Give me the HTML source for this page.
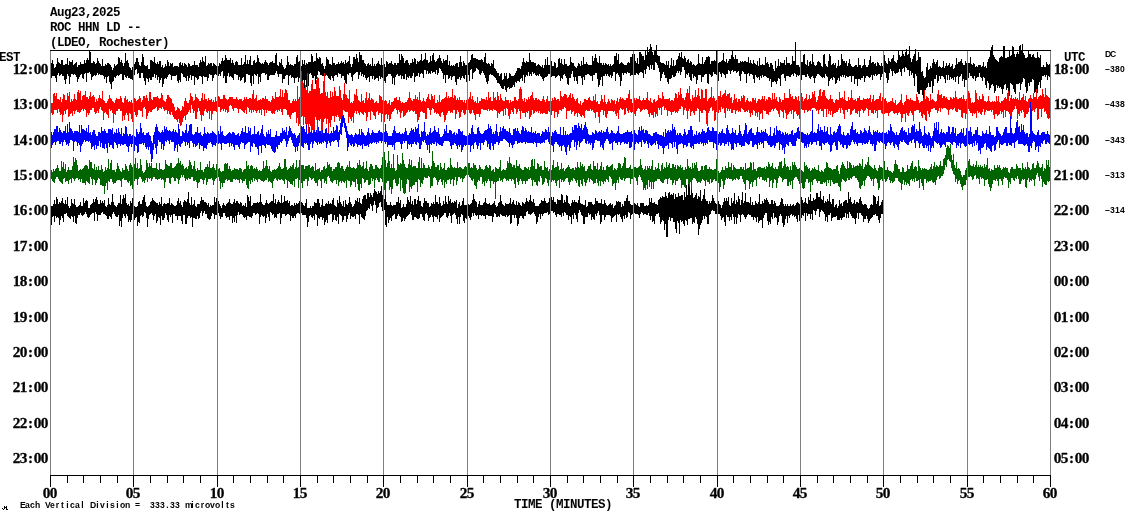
<!DOCTYPE html><html><head><meta charset="utf-8"><style>
*{margin:0;padding:0}
html,body{width:1130px;height:519px;background:#fff;overflow:hidden;position:relative}
.t{position:absolute;white-space:pre;will-change:transform;font-family:"Liberation Mono",monospace;color:#000;transform-origin:0 0;line-height:1}
.big{font-size:12.5px;letter-spacing:-0.5px;font-weight:bold;transform:scaleY(1.09)}
.sm{font-family:"Liberation Sans",sans-serif;font-size:8.6px;font-weight:bold}
.sm span{display:inline-block;width:5px;text-align:center}
.num{font-family:"Liberation Serif",serif;font-size:13.3px;font-weight:bold;-webkit-text-stroke:0.25px #000;transform:scaleY(1.03)}
.num span{display:inline-block;width:7px;text-align:center;transform:scaleX(1.15)}
svg{position:absolute;left:0;top:0}
</style></head><body><svg width="1130" height="519" viewBox="0 0 1130 519" shape-rendering="crispEdges"><path d="M51.5 63v15M52.5 60v16M53.5 64v12M54.5 68v8M55.5 67v11M56.5 64v18M57.5 58v17M58.5 62v11M59.5 63v13M60.5 64v11M61.5 60v14M62.5 60v16M63.5 65v11M64.5 65v15M65.5 64v20M66.5 64v15M67.5 58v16M68.5 65v11M69.5 61v23M70.5 62v15M71.5 62v12M72.5 60v14M73.5 65v10M74.5 64v10M75.5 63v12M76.5 62v15M77.5 67v15M78.5 65v14M79.5 65v12M80.5 62v13M81.5 64v10M82.5 64v14M83.5 64v15M84.5 60v14M85.5 63v10M86.5 60v22M87.5 58v15M88.5 60v13M89.5 51v21M90.5 52v22M91.5 63v17M92.5 63v14M93.5 61v15M94.5 62v13M95.5 64v12M96.5 63v12M97.5 58v15M98.5 61v14M99.5 63v11M100.5 64v11M101.5 66v9M102.5 59v16M103.5 66v10M104.5 66v13M105.5 64v13M106.5 65v18M107.5 63v14M108.5 63v13M109.5 64v18M110.5 65v19M111.5 67v22M112.5 70v12M113.5 68v13M114.5 64v13M115.5 66v12M116.5 65v11M117.5 64v11M118.5 57v19M119.5 58v17M120.5 62v12M121.5 60v14M122.5 63v17M123.5 66v14M124.5 63v12M125.5 53v24M126.5 61v17M127.5 60v16M128.5 63v15M129.5 67v11M130.5 68v11M131.5 70v9M132.5 67v13M133.5 68v7M134.5 64v11M135.5 62v8M136.5 58v11M137.5 58v16M138.5 62v11M139.5 65v13M140.5 66v12M141.5 62v11M142.5 54v19M143.5 57v21M144.5 65v16M145.5 66v19M146.5 66v12M147.5 65v14M148.5 69v13M149.5 69v9M150.5 60v20M151.5 60v20M152.5 61v16M153.5 62v15M154.5 57v17M155.5 63v15M156.5 64v11M157.5 62v18M158.5 64v13M159.5 61v22M160.5 61v19M161.5 67v11M162.5 65v22M163.5 68v16M164.5 67v12M165.5 64v14M166.5 66v13M167.5 60v17M168.5 62v13M169.5 66v8M170.5 63v12M171.5 64v16M172.5 63v13M173.5 67v9M174.5 66v10M175.5 66v10M176.5 66v9M177.5 66v15M178.5 67v16M179.5 63v17M180.5 62v20M181.5 65v8M182.5 63v11M183.5 66v11M184.5 63v14M185.5 64v14M186.5 65v16M187.5 67v9M188.5 63v18M189.5 64v14M190.5 66v9M191.5 66v14M192.5 65v11M193.5 65v11M194.5 61v24M195.5 65v12M196.5 65v13M197.5 65v15M198.5 67v12M199.5 63v13M200.5 60v16M201.5 62v15M202.5 57v27M203.5 61v15M204.5 62v15M205.5 56v21M206.5 66v11M207.5 65v16M208.5 63v15M209.5 64v10M210.5 63v12M211.5 63v12M212.5 66v15M213.5 63v15M214.5 64v11M215.5 65v9M216.5 66v9M217.5 67v9M218.5 66v10M219.5 63v11M220.5 64v12M221.5 61v11M222.5 58v13M223.5 61v17M224.5 60v16M225.5 55v28M226.5 58v25M227.5 60v16M228.5 60v13M229.5 60v17M230.5 58v18M231.5 63v14M232.5 60v18M233.5 63v17M234.5 65v9M235.5 62v12M236.5 61v14M237.5 62v13M238.5 65v15M239.5 65v12M240.5 65v16M241.5 58v22M242.5 65v13M243.5 64v13M244.5 62v21M245.5 55v27M246.5 64v10M247.5 60v14M248.5 64v11M249.5 60v15M250.5 56v27M251.5 65v21M252.5 65v11M253.5 61v23M254.5 60v14M255.5 63v12M256.5 62v14M257.5 55v19M258.5 58v26M259.5 62v15M260.5 63v19M261.5 64v10M262.5 63v10M263.5 64v9M264.5 62v11M265.5 60v15M266.5 62v12M267.5 63v17M268.5 65v15M269.5 63v13M270.5 62v13M271.5 62v13M272.5 61v14M273.5 63v12M274.5 63v12M275.5 55v18M276.5 53v18M277.5 65v9M278.5 66v11M279.5 62v12M280.5 63v11M281.5 59v15M282.5 65v18M283.5 67v12M284.5 69v10M285.5 68v8M286.5 65v10M287.5 56v19M288.5 62v23M289.5 65v11M290.5 64v11M291.5 65v13M292.5 65v12M293.5 66v12M294.5 64v19M295.5 64v14M296.5 57v21M297.5 55v22M298.5 62v20M299.5 61v17M300.5 64v22M301.5 66v20M302.5 60v34M303.5 64v16M304.5 60v30M305.5 65v15M306.5 63v24M307.5 64v12M308.5 62v24M309.5 62v12M310.5 62v11M311.5 54v21M312.5 56v22M313.5 62v16M314.5 61v15M315.5 61v23M316.5 53v26M317.5 58v17M318.5 59v12M319.5 57v15M320.5 58v17M321.5 64v11M322.5 63v13M323.5 66v10M324.5 69v9M325.5 66v10M326.5 57v18M327.5 59v17M328.5 60v18M329.5 64v15M330.5 64v16M331.5 65v11M332.5 57v21M333.5 63v18M334.5 63v13M335.5 65v10M336.5 64v11M337.5 64v13M338.5 62v11M339.5 64v10M340.5 63v11M341.5 61v17M342.5 63v13M343.5 62v14M344.5 64v16M345.5 60v23M346.5 63v21M347.5 62v12M348.5 61v14M349.5 56v17M350.5 64v9M351.5 67v10M352.5 64v17M353.5 57v18M354.5 57v17M355.5 59v14M356.5 54v18M357.5 58v14M358.5 62v17M359.5 52v23M360.5 55v17M361.5 55v21M362.5 60v14M363.5 60v17M364.5 63v12M365.5 64v14M366.5 66v14M367.5 64v14M368.5 63v14M369.5 65v17M370.5 64v12M371.5 66v10M372.5 58v21M373.5 66v10M374.5 64v16M375.5 66v13M376.5 64v14M377.5 63v15M378.5 61v20M379.5 64v12M380.5 65v14M381.5 58v19M382.5 65v13M383.5 65v13M384.5 64v17M385.5 67v16M386.5 61v16M387.5 62v14M388.5 64v10M389.5 63v11M390.5 63v11M391.5 61v15M392.5 64v20M393.5 65v13M394.5 63v22M395.5 63v14M396.5 65v10M397.5 63v11M398.5 63v13M399.5 54v22M400.5 60v15M401.5 54v25M402.5 56v20M403.5 58v21M404.5 63v16M405.5 61v13M406.5 60v20M407.5 60v17M408.5 63v15M409.5 65v11M410.5 63v15M411.5 63v15M412.5 59v17M413.5 62v11M414.5 58v24M415.5 59v18M416.5 64v12M417.5 61v15M418.5 62v11M419.5 61v16M420.5 60v14M421.5 54v19M422.5 61v13M423.5 60v18M424.5 59v11M425.5 53v17M426.5 60v14M427.5 60v11M428.5 63v11M429.5 62v11M430.5 56v18M431.5 61v10M432.5 55v18M433.5 53v19M434.5 60v12M435.5 62v12M436.5 61v9M437.5 59v16M438.5 58v15M439.5 55v13M440.5 58v11M441.5 61v10M442.5 63v10M443.5 59v20M444.5 61v14M445.5 60v23M446.5 60v15M447.5 55v20M448.5 65v14M449.5 61v17M450.5 66v10M451.5 65v15M452.5 66v11M453.5 65v11M454.5 66v10M455.5 64v18M456.5 63v22M457.5 63v16M458.5 67v12M459.5 62v15M460.5 56v24M461.5 62v16M462.5 66v10M463.5 61v17M464.5 63v16M465.5 65v10M466.5 65v17M467.5 64v12M468.5 63v12M469.5 62v19M470.5 60v10M471.5 55v14M472.5 54v25M473.5 58v15M474.5 58v14M475.5 58v13M476.5 59v9M477.5 59v10M478.5 60v10M479.5 60v14M480.5 60v15M481.5 59v14M482.5 60v11M483.5 62v11M484.5 57v18M485.5 53v25M486.5 63v19M487.5 64v20M488.5 63v18M489.5 64v11M490.5 66v8M491.5 63v12M492.5 64v11M493.5 60v16M494.5 68v9M495.5 69v9M496.5 71v9M497.5 73v10M498.5 73v10M499.5 76v8M500.5 74v12M501.5 73v15M502.5 80v9M503.5 79v10M504.5 73v13M505.5 76v14M506.5 73v19M507.5 79v9M508.5 78v9M509.5 73v16M510.5 74v14M511.5 76v12M512.5 76v11M513.5 76v9M514.5 75v12M515.5 73v9M516.5 71v12M517.5 68v13M518.5 68v13M519.5 68v14M520.5 69v10M521.5 66v12M522.5 62v19M523.5 58v17M524.5 62v21M525.5 63v14M526.5 61v14M527.5 62v14M528.5 62v10M529.5 53v23M530.5 60v14M531.5 62v14M532.5 62v10M533.5 62v12M534.5 63v10M535.5 63v12M536.5 66v10M537.5 65v10M538.5 64v12M539.5 65v9M540.5 66v10M541.5 67v10M542.5 65v14M543.5 68v13M544.5 65v13M545.5 59v18M546.5 65v12M547.5 57v19M548.5 65v9M549.5 65v9M550.5 64v11M551.5 61v16M552.5 66v10M553.5 66v10M554.5 62v14M555.5 63v15M556.5 68v9M557.5 67v9M558.5 59v16M559.5 58v18M560.5 63v18M561.5 59v19M562.5 64v15M563.5 65v10M564.5 59v15M565.5 64v12M566.5 64v14M567.5 66v18M568.5 66v19M569.5 65v13M570.5 57v21M571.5 62v12M572.5 63v8M573.5 63v14M574.5 66v15M575.5 67v10M576.5 68v13M577.5 66v18M578.5 63v13M579.5 64v12M580.5 66v10M581.5 61v17M582.5 65v20M583.5 57v20M584.5 64v16M585.5 64v11M586.5 62v13M587.5 64v10M588.5 65v9M589.5 65v10M590.5 65v11M591.5 65v11M592.5 56v25M593.5 61v14M594.5 58v17M595.5 54v19M596.5 58v15M597.5 62v17M598.5 63v24M599.5 56v29M600.5 63v17M601.5 63v14M602.5 65v21M603.5 63v13M604.5 65v11M605.5 63v11M606.5 64v12M607.5 65v9M608.5 64v12M609.5 66v11M610.5 64v11M611.5 66v12M612.5 65v11M613.5 64v8M614.5 56v16M615.5 56v25M616.5 53v21M617.5 60v13M618.5 54v21M619.5 64v13M620.5 63v23M621.5 62v19M622.5 63v10M623.5 64v11M624.5 65v8M625.5 65v8M626.5 65v9M627.5 63v9M628.5 62v11M629.5 63v10M630.5 57v19M631.5 57v18M632.5 54v21M633.5 62v18M634.5 54v21M635.5 61v14M636.5 63v10M637.5 58v16M638.5 64v11M639.5 52v21M640.5 52v20M641.5 54v18M642.5 56v17M643.5 56v22M644.5 60v10M645.5 50v24M646.5 55v14M647.5 47v19M648.5 52v15M649.5 49v21M650.5 44v21M651.5 47v22M652.5 52v13M653.5 55v15M654.5 51v19M655.5 50v12M656.5 45v18M657.5 55v10M658.5 56v12M659.5 56v16M660.5 62v19M661.5 63v15M662.5 63v11M663.5 63v9M664.5 64v11M665.5 65v13M666.5 61v17M667.5 65v17M668.5 61v23M669.5 68v11M670.5 65v14M671.5 58v20M672.5 66v9M673.5 60v17M674.5 66v11M675.5 65v11M676.5 60v13M677.5 59v12M678.5 56v17M679.5 53v18M680.5 57v18M681.5 52v20M682.5 58v9M683.5 59v8M684.5 56v14M685.5 58v20M686.5 62v12M687.5 60v15M688.5 59v14M689.5 63v14M690.5 61v19M691.5 62v19M692.5 65v9M693.5 64v14M694.5 65v11M695.5 66v11M696.5 65v19M697.5 64v16M698.5 54v21M699.5 63v12M700.5 64v11M701.5 64v18M702.5 57v20M703.5 64v13M704.5 62v13M705.5 60v14M706.5 57v17M707.5 57v26M708.5 56v28M709.5 57v17M710.5 64v11M711.5 61v16M712.5 61v15M713.5 61v11M714.5 60v14M715.5 61v13M716.5 50v25M717.5 59v15M718.5 63v18M719.5 62v10M720.5 62v12M721.5 61v16M722.5 60v13M723.5 53v21M724.5 61v14M725.5 62v16M726.5 59v15M727.5 63v11M728.5 61v9M729.5 59v12M730.5 59v15M731.5 55v16M732.5 50v20M733.5 57v15M734.5 59v12M735.5 55v16M736.5 59v14M737.5 59v13M738.5 63v8M739.5 63v13M740.5 61v20M741.5 62v12M742.5 61v10M743.5 62v10M744.5 61v13M745.5 61v13M746.5 62v21M747.5 62v12M748.5 57v16M749.5 63v13M750.5 60v14M751.5 63v11M752.5 64v11M753.5 60v19M754.5 63v20M755.5 64v11M756.5 65v12M757.5 61v17M758.5 66v11M759.5 58v22M760.5 65v11M761.5 65v13M762.5 64v11M763.5 65v12M764.5 65v11M765.5 57v19M766.5 63v14M767.5 62v16M768.5 64v14M769.5 67v14M770.5 63v16M771.5 63v24M772.5 65v17M773.5 69v13M774.5 71v10M775.5 61v21M776.5 68v16M777.5 66v15M778.5 59v19M779.5 66v13M780.5 62v24M781.5 63v12M782.5 63v11M783.5 63v11M784.5 60v18M785.5 65v16M786.5 57v19M787.5 63v13M788.5 63v13M789.5 63v14M790.5 65v12M791.5 64v11M792.5 56v18M793.5 61v15M794.5 61v12M795.5 42v32M796.5 65v12M797.5 65v10M798.5 65v11M799.5 67v8M800.5 64v13M801.5 62v18M802.5 62v13M803.5 55v20M804.5 54v21M805.5 64v13M806.5 65v12M807.5 60v14M808.5 66v10M809.5 62v16M810.5 61v18M811.5 64v13M812.5 54v22M813.5 62v16M814.5 65v18M815.5 66v12M816.5 65v11M817.5 62v12M818.5 61v13M819.5 62v13M820.5 63v13M821.5 66v11M822.5 67v11M823.5 55v22M824.5 54v24M825.5 64v10M826.5 66v10M827.5 67v10M828.5 61v25M829.5 54v27M830.5 56v23M831.5 65v13M832.5 64v16M833.5 63v14M834.5 65v13M835.5 63v21M836.5 68v15M837.5 66v14M838.5 60v18M839.5 66v15M840.5 65v11M841.5 54v23M842.5 59v16M843.5 61v16M844.5 61v14M845.5 63v15M846.5 61v15M847.5 66v11M848.5 63v14M849.5 59v17M850.5 64v12M851.5 66v16M852.5 67v9M853.5 67v9M854.5 66v18M855.5 65v14M856.5 65v14M857.5 67v19M858.5 58v21M859.5 65v14M860.5 65v15M861.5 68v10M862.5 66v12M863.5 65v11M864.5 59v23M865.5 65v13M866.5 67v9M867.5 67v9M868.5 65v12M869.5 60v18M870.5 56v21M871.5 63v12M872.5 62v18M873.5 62v13M874.5 64v12M875.5 63v11M876.5 66v10M877.5 62v13M878.5 63v11M879.5 65v9M880.5 66v14M881.5 63v14M882.5 66v8M883.5 62v12M884.5 55v17M885.5 61v12M886.5 63v15M887.5 64v19M888.5 58v22M889.5 61v12M890.5 62v7M891.5 59v12M892.5 58v18M893.5 55v16M894.5 61v12M895.5 62v12M896.5 63v10M897.5 60v13M898.5 50v22M899.5 55v14M900.5 57v15M901.5 56v20M902.5 51v18M903.5 54v14M904.5 56v16M905.5 52v15M906.5 49v19M907.5 55v15M908.5 54v16M909.5 46v30M910.5 58v13M911.5 62v13M912.5 59v14M913.5 56v22M914.5 54v32M915.5 49v25M916.5 61v15M917.5 60v32M918.5 52v42M919.5 57v37M920.5 57v33M921.5 72v18M922.5 71v24M923.5 76v25M924.5 78v15M925.5 77v13M926.5 67v21M927.5 63v24M928.5 70v13M929.5 69v18M930.5 66v21M931.5 68v13M932.5 63v30M933.5 59v27M934.5 62v17M935.5 64v15M936.5 62v13M937.5 60v23M938.5 67v14M939.5 66v10M940.5 67v12M941.5 68v8M942.5 67v9M943.5 61v16M944.5 68v11M945.5 66v17M946.5 63v12M947.5 66v14M948.5 65v10M949.5 63v17M950.5 67v10M951.5 66v13M952.5 64v14M953.5 69v11M954.5 68v9M955.5 65v17M956.5 58v19M957.5 64v12M958.5 62v22M959.5 62v15M960.5 61v15M961.5 59v15M962.5 63v18M963.5 65v14M964.5 65v22M965.5 61v19M966.5 63v17M967.5 54v31M968.5 63v15M969.5 63v10M970.5 57v19M971.5 64v12M972.5 65v13M973.5 63v16M974.5 64v12M975.5 67v14M976.5 66v12M977.5 67v10M978.5 65v12M979.5 65v8M980.5 65v12M981.5 67v11M982.5 66v15M983.5 62v15M984.5 67v11M985.5 66v19M986.5 68v20M987.5 62v19M988.5 59v24M989.5 57v33M990.5 51v37M991.5 47v38M992.5 45v39M993.5 55v31M994.5 57v36M995.5 59v32M996.5 60v25M997.5 61v27M998.5 62v24M999.5 58v30M1000.5 57v30M1001.5 56v33M1002.5 57v37M1003.5 46v43M1004.5 46v39M1005.5 58v26M1006.5 58v32M1007.5 57v31M1008.5 57v34M1009.5 51v45M1010.5 56v27M1011.5 55v29M1012.5 46v39M1013.5 47v42M1014.5 54v38M1015.5 57v37M1016.5 54v30M1017.5 52v32M1018.5 54v30M1019.5 46v37M1020.5 45v45M1021.5 51v33M1022.5 44v38M1023.5 53v25M1024.5 55v24M1025.5 58v29M1026.5 58v35M1027.5 57v34M1028.5 51v32M1029.5 54v32M1030.5 54v28M1031.5 57v25M1032.5 55v24M1033.5 54v26M1034.5 57v36M1035.5 58v34M1036.5 58v31M1037.5 52v41M1038.5 57v28M1039.5 58v24M1040.5 55v33M1041.5 67v13M1042.5 67v9M1043.5 65v11M1044.5 67v8M1045.5 67v10M1046.5 62v13M1047.5 64v16M1048.5 65v11M1049.5 64v13" stroke="#000000" stroke-width="1" fill="none"/><path d="M51.5 103v10M52.5 103v12M53.5 94v20M54.5 93v17M55.5 96v14M56.5 93v17M57.5 99v14M58.5 99v10M59.5 100v12M60.5 97v18M61.5 102v12M62.5 99v23M63.5 94v21M64.5 95v16M65.5 100v14M66.5 100v10M67.5 93v16M68.5 96v21M69.5 92v24M70.5 102v12M71.5 99v14M72.5 101v15M73.5 99v12M74.5 94v20M75.5 99v12M76.5 100v10M77.5 92v20M78.5 90v22M79.5 93v20M80.5 91v21M81.5 100v10M82.5 96v13M83.5 95v16M84.5 95v14M85.5 91v19M86.5 97v20M87.5 97v16M88.5 99v16M89.5 96v17M90.5 92v18M91.5 97v13M92.5 96v12M93.5 95v13M94.5 97v15M95.5 102v12M96.5 99v14M97.5 101v10M98.5 98v15M99.5 95v14M100.5 98v9M101.5 99v11M102.5 91v20M103.5 100v20M104.5 101v12M105.5 103v9M106.5 103v11M107.5 101v14M108.5 99v19M109.5 95v14M110.5 98v13M111.5 99v11M112.5 101v12M113.5 102v21M114.5 103v11M115.5 100v15M116.5 98v13M117.5 99v12M118.5 99v10M119.5 99v10M120.5 96v15M121.5 98v13M122.5 102v19M123.5 103v13M124.5 98v22M125.5 96v19M126.5 100v13M127.5 99v16M128.5 102v19M129.5 101v12M130.5 102v12M131.5 100v19M132.5 103v19M133.5 101v12M134.5 98v14M135.5 99v16M136.5 101v16M137.5 100v15M138.5 99v11M139.5 96v14M140.5 98v13M141.5 102v9M142.5 100v17M143.5 96v12M144.5 96v11M145.5 98v11M146.5 95v24M147.5 98v18M148.5 101v12M149.5 92v19M150.5 92v20M151.5 99v13M152.5 100v10M153.5 97v12M154.5 97v12M155.5 97v11M156.5 97v10M157.5 96v15M158.5 98v12M159.5 99v9M160.5 98v10M161.5 93v16M162.5 95v12M163.5 100v9M164.5 101v10M165.5 102v8M166.5 99v11M167.5 95v19M168.5 95v16M169.5 97v17M170.5 98v17M171.5 99v13M172.5 103v12M173.5 104v13M174.5 107v12M175.5 111v8M176.5 110v10M177.5 107v15M178.5 108v11M179.5 109v14M180.5 111v15M181.5 110v15M182.5 106v16M183.5 107v11M184.5 101v15M185.5 98v22M186.5 101v14M187.5 103v11M188.5 103v9M189.5 100v10M190.5 93v20M191.5 96v9M192.5 97v12M193.5 101v12M194.5 100v11M195.5 94v25M196.5 97v22M197.5 98v14M198.5 99v9M199.5 101v10M200.5 101v14M201.5 98v23M202.5 93v22M203.5 100v16M204.5 94v17M205.5 99v10M206.5 99v13M207.5 101v12M208.5 98v13M209.5 100v19M210.5 100v11M211.5 99v21M212.5 102v12M213.5 100v11M214.5 102v9M215.5 97v14M216.5 101v11M217.5 93v18M218.5 96v11M219.5 97v10M220.5 99v13M221.5 99v11M222.5 99v10M223.5 95v16M224.5 95v14M225.5 98v14M226.5 99v11M227.5 100v13M228.5 99v13M229.5 97v9M230.5 97v8M231.5 97v9M232.5 97v12M233.5 99v12M234.5 99v9M235.5 99v9M236.5 97v11M237.5 99v10M238.5 100v13M239.5 99v10M240.5 99v10M241.5 99v11M242.5 101v10M243.5 100v12M244.5 97v16M245.5 99v11M246.5 97v17M247.5 99v8M248.5 99v9M249.5 98v14M250.5 98v12M251.5 99v14M252.5 94v16M253.5 90v22M254.5 99v11M255.5 98v13M256.5 95v18M257.5 101v10M258.5 100v10M259.5 100v13M260.5 99v11M261.5 100v15M262.5 98v11M263.5 98v12M264.5 99v17M265.5 96v14M266.5 99v14M267.5 99v11M268.5 101v10M269.5 101v10M270.5 102v9M271.5 100v13M272.5 96v18M273.5 98v15M274.5 99v15M275.5 92v19M276.5 97v13M277.5 97v15M278.5 97v13M279.5 96v15M280.5 89v20M281.5 97v15M282.5 90v25M283.5 97v12M284.5 93v16M285.5 89v20M286.5 90v20M287.5 93v22M288.5 100v15M289.5 100v17M290.5 103v16M291.5 103v12M292.5 101v12M293.5 99v14M294.5 101v11M295.5 99v13M296.5 101v22M297.5 86v32M298.5 99v27M299.5 97v27M300.5 86v36M301.5 71v46M302.5 81v35M303.5 83v42M304.5 88v29M305.5 85v39M306.5 90v46M307.5 73v51M308.5 93v50M309.5 91v33M310.5 91v35M311.5 84v48M312.5 80v50M313.5 89v55M314.5 89v52M315.5 89v28M316.5 80v40M317.5 77v63M318.5 78v42M319.5 88v33M320.5 94v25M321.5 93v44M322.5 93v48M323.5 81v41M324.5 73v46M325.5 92v26M326.5 96v28M327.5 92v27M328.5 98v37M329.5 98v25M330.5 91v36M331.5 97v23M332.5 92v24M333.5 96v20M334.5 87v35M335.5 91v25M336.5 96v21M337.5 96v19M338.5 96v21M339.5 86v35M340.5 90v29M341.5 98v31M342.5 100v17M343.5 94v16M344.5 83v28M345.5 94v18M346.5 95v17M347.5 98v14M348.5 99v24M349.5 90v27M350.5 103v16M351.5 102v19M352.5 103v14M353.5 101v22M354.5 94v19M355.5 95v16M356.5 89v25M357.5 96v15M358.5 100v13M359.5 101v14M360.5 102v10M361.5 94v19M362.5 101v13M363.5 100v15M364.5 103v9M365.5 98v15M366.5 92v29M367.5 100v17M368.5 98v14M369.5 93v19M370.5 100v20M371.5 98v13M372.5 99v13M373.5 100v15M374.5 103v13M375.5 102v17M376.5 101v11M377.5 103v8M378.5 103v12M379.5 95v18M380.5 96v17M381.5 97v25M382.5 100v14M383.5 92v23M384.5 101v21M385.5 100v15M386.5 101v13M387.5 104v15M388.5 103v12M389.5 100v21M390.5 105v14M391.5 102v12M392.5 102v10M393.5 101v10M394.5 98v11M395.5 98v10M396.5 97v13M397.5 100v14M398.5 100v10M399.5 97v15M400.5 101v17M401.5 103v10M402.5 102v9M403.5 103v14M404.5 103v13M405.5 102v13M406.5 102v11M407.5 100v12M408.5 98v12M409.5 92v20M410.5 98v13M411.5 100v10M412.5 101v10M413.5 99v13M414.5 99v12M415.5 95v19M416.5 99v15M417.5 97v25M418.5 100v20M419.5 92v25M420.5 100v12M421.5 102v9M422.5 101v11M423.5 98v15M424.5 101v12M425.5 102v17M426.5 99v20M427.5 97v11M428.5 94v14M429.5 99v11M430.5 100v15M431.5 94v16M432.5 96v12M433.5 99v10M434.5 95v18M435.5 103v9M436.5 103v11M437.5 100v13M438.5 102v12M439.5 95v21M440.5 102v15M441.5 100v13M442.5 99v13M443.5 99v16M444.5 98v24M445.5 97v23M446.5 92v23M447.5 98v15M448.5 96v15M449.5 98v13M450.5 97v16M451.5 97v15M452.5 89v24M453.5 98v12M454.5 95v15M455.5 96v23M456.5 100v14M457.5 98v12M458.5 100v12M459.5 97v21M460.5 100v17M461.5 100v12M462.5 100v10M463.5 102v11M464.5 100v15M465.5 103v11M466.5 100v10M467.5 99v10M468.5 99v11M469.5 97v16M470.5 92v22M471.5 99v14M472.5 96v14M473.5 100v13M474.5 102v13M475.5 101v19M476.5 103v11M477.5 97v17M478.5 103v11M479.5 101v16M480.5 101v13M481.5 98v11M482.5 99v10M483.5 99v11M484.5 99v11M485.5 100v10M486.5 97v13M487.5 100v11M488.5 92v17M489.5 98v13M490.5 97v13M491.5 101v9M492.5 101v10M493.5 92v17M494.5 98v12M495.5 97v13M496.5 100v11M497.5 92v26M498.5 96v17M499.5 100v14M500.5 94v18M501.5 98v13M502.5 100v11M503.5 101v15M504.5 101v8M505.5 97v18M506.5 100v8M507.5 100v9M508.5 100v16M509.5 103v16M510.5 100v14M511.5 102v8M512.5 101v11M513.5 101v13M514.5 97v11M515.5 97v12M516.5 100v14M517.5 101v11M518.5 99v10M519.5 89v22M520.5 87v32M521.5 89v22M522.5 99v14M523.5 101v12M524.5 98v15M525.5 102v15M526.5 99v13M527.5 100v13M528.5 97v14M529.5 99v20M530.5 96v21M531.5 95v20M532.5 92v18M533.5 98v16M534.5 100v13M535.5 98v13M536.5 98v14M537.5 100v11M538.5 99v14M539.5 100v11M540.5 101v13M541.5 101v12M542.5 99v15M543.5 96v17M544.5 100v13M545.5 102v12M546.5 99v15M547.5 96v18M548.5 101v10M549.5 101v11M550.5 102v18M551.5 101v14M552.5 98v13M553.5 100v11M554.5 97v21M555.5 98v14M556.5 100v12M557.5 99v18M558.5 99v15M559.5 101v9M560.5 91v19M561.5 96v15M562.5 97v12M563.5 96v13M564.5 94v13M565.5 94v14M566.5 95v24M567.5 98v13M568.5 97v14M569.5 95v16M570.5 93v17M571.5 98v16M572.5 94v18M573.5 97v14M574.5 99v17M575.5 101v13M576.5 99v14M577.5 98v19M578.5 103v10M579.5 104v10M580.5 101v15M581.5 105v12M582.5 103v12M583.5 102v14M584.5 99v19M585.5 99v12M586.5 100v10M587.5 100v11M588.5 98v13M589.5 97v14M590.5 100v9M591.5 101v10M592.5 101v9M593.5 96v16M594.5 100v13M595.5 94v24M596.5 102v10M597.5 101v11M598.5 104v13M599.5 104v19M600.5 101v11M601.5 95v15M602.5 99v11M603.5 102v13M604.5 95v16M605.5 102v15M606.5 104v14M607.5 102v12M608.5 99v12M609.5 101v10M610.5 103v8M611.5 99v12M612.5 100v11M613.5 101v11M614.5 100v11M615.5 104v10M616.5 101v15M617.5 98v15M618.5 102v17M619.5 99v11M620.5 97v11M621.5 99v10M622.5 98v12M623.5 99v10M624.5 100v15M625.5 100v14M626.5 98v10M627.5 98v13M628.5 94v19M629.5 90v20M630.5 99v13M631.5 99v14M632.5 103v9M633.5 102v11M634.5 98v16M635.5 100v16M636.5 98v13M637.5 99v10M638.5 99v9M639.5 96v13M640.5 100v12M641.5 101v10M642.5 100v10M643.5 98v11M644.5 100v10M645.5 100v9M646.5 98v11M647.5 92v18M648.5 100v14M649.5 101v16M650.5 98v15M651.5 102v13M652.5 103v12M653.5 100v18M654.5 99v13M655.5 102v15M656.5 101v13M657.5 100v16M658.5 95v13M659.5 98v12M660.5 98v10M661.5 99v16M662.5 92v15M663.5 96v10M664.5 99v11M665.5 99v9M666.5 99v11M667.5 99v17M668.5 99v12M669.5 98v13M670.5 101v11M671.5 100v15M672.5 100v12M673.5 101v11M674.5 98v13M675.5 93v20M676.5 94v18M677.5 98v15M678.5 92v19M679.5 95v14M680.5 88v21M681.5 94v12M682.5 98v9M683.5 98v17M684.5 100v10M685.5 97v11M686.5 93v18M687.5 89v30M688.5 93v18M689.5 86v23M690.5 99v17M691.5 101v11M692.5 95v16M693.5 98v15M694.5 97v18M695.5 90v21M696.5 97v14M697.5 95v13M698.5 88v21M699.5 96v26M700.5 99v12M701.5 89v24M702.5 90v23M703.5 98v12M704.5 98v12M705.5 89v22M706.5 89v35M707.5 101v25M708.5 99v14M709.5 98v13M710.5 97v11M711.5 87v20M712.5 98v13M713.5 96v14M714.5 98v23M715.5 101v19M716.5 100v12M717.5 97v13M718.5 96v17M719.5 96v14M720.5 91v21M721.5 97v10M722.5 95v14M723.5 94v14M724.5 93v20M725.5 90v28M726.5 96v12M727.5 94v17M728.5 94v15M729.5 93v18M730.5 98v11M731.5 97v16M732.5 103v10M733.5 100v10M734.5 94v16M735.5 99v15M736.5 98v13M737.5 102v8M738.5 99v13M739.5 99v12M740.5 101v11M741.5 96v12M742.5 98v11M743.5 95v15M744.5 96v16M745.5 102v10M746.5 100v11M747.5 98v14M748.5 101v9M749.5 102v11M750.5 101v16M751.5 102v11M752.5 98v17M753.5 98v12M754.5 100v11M755.5 98v18M756.5 103v10M757.5 101v16M758.5 99v13M759.5 99v21M760.5 100v14M761.5 99v14M762.5 96v23M763.5 99v11M764.5 96v15M765.5 101v10M766.5 99v15M767.5 100v14M768.5 97v18M769.5 97v15M770.5 98v14M771.5 100v10M772.5 93v16M773.5 99v12M774.5 93v16M775.5 99v9M776.5 97v13M777.5 101v10M778.5 102v12M779.5 97v20M780.5 99v11M781.5 102v9M782.5 100v12M783.5 100v18M784.5 93v17M785.5 98v15M786.5 98v21M787.5 98v17M788.5 98v16M789.5 89v23M790.5 94v17M791.5 97v17M792.5 96v14M793.5 99v20M794.5 99v13M795.5 96v15M796.5 97v17M797.5 100v16M798.5 96v19M799.5 101v18M800.5 98v16M801.5 93v16M802.5 97v13M803.5 101v9M804.5 99v14M805.5 98v12M806.5 94v16M807.5 100v12M808.5 99v12M809.5 95v15M810.5 99v12M811.5 98v11M812.5 92v16M813.5 94v14M814.5 91v17M815.5 97v12M816.5 102v9M817.5 100v10M818.5 96v18M819.5 90v20M820.5 89v20M821.5 96v15M822.5 92v19M823.5 90v27M824.5 90v19M825.5 96v13M826.5 98v19M827.5 99v10M828.5 100v14M829.5 99v12M830.5 95v20M831.5 99v12M832.5 99v18M833.5 102v12M834.5 103v10M835.5 100v13M836.5 99v13M837.5 100v12M838.5 100v10M839.5 92v16M840.5 98v15M841.5 98v10M842.5 97v13M843.5 99v15M844.5 91v28M845.5 100v10M846.5 101v9M847.5 101v11M848.5 97v12M849.5 100v9M850.5 98v17M851.5 90v24M852.5 98v13M853.5 100v10M854.5 100v9M855.5 99v14M856.5 101v12M857.5 98v16M858.5 98v13M859.5 96v21M860.5 100v11M861.5 100v9M862.5 100v10M863.5 98v15M864.5 99v12M865.5 99v11M866.5 99v9M867.5 98v11M868.5 99v17M869.5 98v12M870.5 95v15M871.5 102v11M872.5 99v14M873.5 95v19M874.5 101v9M875.5 100v13M876.5 99v12M877.5 99v19M878.5 99v11M879.5 96v14M880.5 93v17M881.5 101v12M882.5 97v17M883.5 102v16M884.5 99v15M885.5 98v15M886.5 101v12M887.5 103v10M888.5 102v14M889.5 102v11M890.5 101v11M891.5 101v10M892.5 98v13M893.5 102v11M894.5 103v11M895.5 100v13M896.5 105v8M897.5 104v11M898.5 103v10M899.5 102v10M900.5 100v14M901.5 94v28M902.5 103v15M903.5 105v9M904.5 102v12M905.5 101v21M906.5 95v18M907.5 99v16M908.5 99v17M909.5 100v13M910.5 98v13M911.5 100v13M912.5 100v15M913.5 101v20M914.5 101v10M915.5 101v10M916.5 94v16M917.5 97v13M918.5 100v10M919.5 103v10M920.5 102v10M921.5 101v15M922.5 101v17M923.5 98v16M924.5 90v25M925.5 99v21M926.5 96v25M927.5 97v14M928.5 98v16M929.5 101v16M930.5 94v18M931.5 100v9M932.5 99v10M933.5 100v8M934.5 101v7M935.5 102v8M936.5 101v9M937.5 94v19M938.5 90v21M939.5 95v13M940.5 95v17M941.5 94v14M942.5 98v11M943.5 96v12M944.5 96v12M945.5 98v10M946.5 97v12M947.5 99v11M948.5 100v15M949.5 100v10M950.5 97v12M951.5 98v11M952.5 99v11M953.5 97v12M954.5 98v10M955.5 91v20M956.5 97v15M957.5 99v13M958.5 99v10M959.5 98v12M960.5 98v12M961.5 97v20M962.5 99v19M963.5 95v18M964.5 99v14M965.5 101v18M966.5 99v15M967.5 97v24M968.5 91v18M969.5 93v18M970.5 98v15M971.5 103v10M972.5 102v14M973.5 103v10M974.5 102v12M975.5 90v23M976.5 93v25M977.5 99v12M978.5 100v13M979.5 96v16M980.5 99v15M981.5 99v16M982.5 94v18M983.5 96v13M984.5 101v14M985.5 101v11M986.5 102v8M987.5 101v10M988.5 96v15M989.5 101v10M990.5 102v8M991.5 102v10M992.5 101v9M993.5 102v13M994.5 101v18M995.5 102v12M996.5 96v18M997.5 101v15M998.5 96v19M999.5 102v12M1000.5 103v8M1001.5 101v13M1002.5 101v11M1003.5 100v18M1004.5 98v12M1005.5 97v20M1006.5 99v12M1007.5 93v18M1008.5 91v21M1009.5 101v13M1010.5 98v18M1011.5 95v24M1012.5 99v13M1013.5 98v12M1014.5 99v10M1015.5 97v9M1016.5 99v10M1017.5 98v21M1018.5 100v14M1019.5 92v24M1020.5 100v11M1021.5 98v15M1022.5 97v13M1023.5 94v18M1024.5 100v18M1025.5 96v21M1026.5 101v13M1027.5 102v12M1028.5 99v13M1029.5 98v10M1030.5 95v11M1031.5 98v13M1032.5 99v12M1033.5 93v17M1034.5 97v15M1035.5 97v12M1036.5 89v19M1037.5 99v21M1038.5 97v22M1039.5 96v13M1040.5 95v14M1041.5 96v21M1042.5 89v20M1043.5 94v14M1044.5 97v15M1045.5 88v23M1046.5 95v19M1047.5 96v22M1048.5 97v22M1049.5 98v20" stroke="#ff0000" stroke-width="1" fill="none"/><path d="M51.5 132v16M52.5 135v10M53.5 132v11M54.5 129v13M55.5 129v16M56.5 126v16M57.5 126v15M58.5 132v9M59.5 128v16M60.5 130v14M61.5 132v10M62.5 133v13M63.5 131v11M64.5 131v9M65.5 126v16M66.5 133v12M67.5 124v20M68.5 132v14M69.5 122v21M70.5 128v12M71.5 129v11M72.5 131v10M73.5 133v18M74.5 131v11M75.5 131v10M76.5 131v11M77.5 131v15M78.5 132v11M79.5 125v20M80.5 133v19M81.5 125v21M82.5 129v15M83.5 129v13M84.5 130v10M85.5 131v11M86.5 128v13M87.5 132v9M88.5 125v17M89.5 133v8M90.5 132v11M91.5 135v14M92.5 132v15M93.5 130v16M94.5 130v20M95.5 134v11M96.5 136v13M97.5 136v10M98.5 132v14M99.5 132v9M100.5 133v14M101.5 127v16M102.5 131v17M103.5 131v17M104.5 129v20M105.5 131v13M106.5 133v15M107.5 133v20M108.5 129v14M109.5 129v18M110.5 129v16M111.5 130v15M112.5 128v20M113.5 134v15M114.5 132v10M115.5 133v10M116.5 129v16M117.5 133v15M118.5 128v16M119.5 132v12M120.5 134v12M121.5 128v16M122.5 136v9M123.5 133v12M124.5 134v10M125.5 126v18M126.5 127v19M127.5 134v13M128.5 136v16M129.5 134v12M130.5 134v10M131.5 136v11M132.5 135v9M133.5 131v14M134.5 136v15M135.5 137v8M136.5 129v17M137.5 132v21M138.5 134v18M139.5 132v12M140.5 123v21M141.5 128v16M142.5 133v10M143.5 132v13M144.5 135v8M145.5 135v12M146.5 133v16M147.5 133v14M148.5 132v18M149.5 135v12M150.5 136v18M151.5 141v21M152.5 143v16M153.5 135v15M154.5 132v12M155.5 127v21M156.5 124v30M157.5 127v19M158.5 131v9M159.5 132v10M160.5 133v9M161.5 132v17M162.5 130v14M163.5 132v18M164.5 126v20M165.5 129v12M166.5 127v15M167.5 130v10M168.5 131v10M169.5 130v14M170.5 131v9M171.5 132v10M172.5 131v11M173.5 129v13M174.5 132v19M175.5 130v18M176.5 132v13M177.5 133v19M178.5 124v20M179.5 129v17M180.5 136v11M181.5 136v8M182.5 131v12M183.5 132v9M184.5 133v9M185.5 130v16M186.5 124v18M187.5 133v12M188.5 131v12M189.5 125v23M190.5 124v17M191.5 124v17M192.5 134v9M193.5 135v12M194.5 134v10M195.5 132v15M196.5 132v14M197.5 127v18M198.5 133v10M199.5 133v16M200.5 132v13M201.5 135v11M202.5 136v10M203.5 134v17M204.5 127v21M205.5 133v15M206.5 134v15M207.5 132v13M208.5 133v10M209.5 134v9M210.5 133v9M211.5 133v11M212.5 131v16M213.5 132v13M214.5 133v12M215.5 134v12M216.5 135v8M217.5 127v20M218.5 131v13M219.5 134v9M220.5 126v18M221.5 132v18M222.5 131v12M223.5 135v8M224.5 136v8M225.5 136v8M226.5 135v9M227.5 134v9M228.5 133v10M229.5 132v15M230.5 133v10M231.5 134v12M232.5 132v12M233.5 132v15M234.5 133v17M235.5 135v10M236.5 135v10M237.5 134v11M238.5 133v14M239.5 136v13M240.5 134v10M241.5 131v11M242.5 128v15M243.5 132v11M244.5 132v17M245.5 126v19M246.5 133v11M247.5 133v10M248.5 127v15M249.5 131v11M250.5 128v24M251.5 135v11M252.5 134v13M253.5 134v9M254.5 126v18M255.5 134v13M256.5 134v13M257.5 132v17M258.5 131v24M259.5 135v11M260.5 133v13M261.5 129v24M262.5 125v20M263.5 134v11M264.5 136v10M265.5 137v11M266.5 132v12M267.5 134v11M268.5 130v15M269.5 134v11M270.5 129v17M271.5 137v12M272.5 137v14M273.5 137v15M274.5 137v16M275.5 135v17M276.5 131v16M277.5 136v13M278.5 136v9M279.5 136v9M280.5 133v9M281.5 133v10M282.5 128v13M283.5 131v8M284.5 130v9M285.5 132v9M286.5 127v20M287.5 135v9M288.5 131v10M289.5 126v12M290.5 128v9M291.5 131v9M292.5 133v10M293.5 134v12M294.5 133v14M295.5 135v17M296.5 138v9M297.5 136v15M298.5 135v11M299.5 133v10M300.5 131v19M301.5 126v20M302.5 127v20M303.5 126v22M304.5 129v14M305.5 132v12M306.5 125v18M307.5 134v11M308.5 133v17M309.5 127v23M310.5 132v12M311.5 131v11M312.5 133v15M313.5 132v11M314.5 130v11M315.5 132v10M316.5 130v13M317.5 133v12M318.5 127v15M319.5 131v13M320.5 131v12M321.5 134v10M322.5 130v12M323.5 133v10M324.5 133v8M325.5 129v13M326.5 128v20M327.5 133v11M328.5 133v8M329.5 134v9M330.5 133v13M331.5 131v11M332.5 133v8M333.5 127v15M334.5 131v10M335.5 130v10M336.5 125v15M337.5 126v16M338.5 132v15M339.5 130v10M340.5 123v11M341.5 118v17M342.5 116v11M343.5 115v8M344.5 118v10M345.5 123v9M346.5 126v12M347.5 131v20M348.5 134v13M349.5 135v8M350.5 135v10M351.5 134v12M352.5 135v9M353.5 137v10M354.5 135v11M355.5 133v10M356.5 134v10M357.5 135v12M358.5 134v11M359.5 129v16M360.5 135v11M361.5 129v16M362.5 132v17M363.5 133v11M364.5 135v11M365.5 136v10M366.5 135v11M367.5 132v13M368.5 128v19M369.5 133v11M370.5 135v8M371.5 133v11M372.5 130v13M373.5 132v10M374.5 133v10M375.5 133v9M376.5 133v11M377.5 133v9M378.5 131v12M379.5 130v11M380.5 132v9M381.5 132v11M382.5 133v8M383.5 132v9M384.5 132v10M385.5 124v20M386.5 131v11M387.5 133v14M388.5 136v9M389.5 136v9M390.5 136v9M391.5 136v9M392.5 133v14M393.5 130v15M394.5 126v24M395.5 131v12M396.5 133v9M397.5 133v9M398.5 133v9M399.5 132v10M400.5 134v10M401.5 134v15M402.5 133v11M403.5 134v7M404.5 132v11M405.5 128v13M406.5 131v10M407.5 135v14M408.5 135v9M409.5 133v12M410.5 131v13M411.5 128v19M412.5 130v14M413.5 129v15M414.5 132v10M415.5 127v17M416.5 129v16M417.5 128v14M418.5 124v19M419.5 134v15M420.5 137v12M421.5 131v14M422.5 132v9M423.5 131v11M424.5 122v18M425.5 132v11M426.5 136v9M427.5 134v16M428.5 135v10M429.5 132v21M430.5 128v16M431.5 133v12M432.5 132v11M433.5 131v13M434.5 126v18M435.5 130v12M436.5 132v14M437.5 132v11M438.5 128v16M439.5 134v11M440.5 137v8M441.5 137v9M442.5 136v10M443.5 134v9M444.5 129v12M445.5 131v10M446.5 125v16M447.5 133v8M448.5 133v8M449.5 130v12M450.5 130v16M451.5 131v18M452.5 134v11M453.5 133v12M454.5 132v11M455.5 135v9M456.5 133v13M457.5 134v15M458.5 129v16M459.5 129v18M460.5 131v14M461.5 132v20M462.5 131v19M463.5 135v12M464.5 135v10M465.5 136v10M466.5 136v9M467.5 135v9M468.5 135v10M469.5 133v12M470.5 134v18M471.5 128v18M472.5 125v20M473.5 132v17M474.5 134v9M475.5 134v8M476.5 134v11M477.5 128v21M478.5 127v19M479.5 131v12M480.5 133v17M481.5 134v9M482.5 134v9M483.5 133v12M484.5 131v11M485.5 130v10M486.5 130v11M487.5 129v18M488.5 124v20M489.5 128v21M490.5 126v24M491.5 129v14M492.5 134v12M493.5 132v18M494.5 134v10M495.5 131v13M496.5 124v18M497.5 132v10M498.5 136v9M499.5 132v11M500.5 127v14M501.5 131v10M502.5 128v13M503.5 126v13M504.5 129v10M505.5 129v11M506.5 131v10M507.5 131v11M508.5 132v11M509.5 128v19M510.5 133v10M511.5 135v10M512.5 135v13M513.5 129v16M514.5 129v15M515.5 128v13M516.5 131v10M517.5 128v16M518.5 131v12M519.5 133v10M520.5 134v8M521.5 130v13M522.5 126v17M523.5 127v15M524.5 131v11M525.5 128v16M526.5 130v12M527.5 132v11M528.5 131v12M529.5 132v11M530.5 132v11M531.5 127v16M532.5 133v10M533.5 132v12M534.5 133v9M535.5 131v12M536.5 134v13M537.5 133v10M538.5 133v10M539.5 133v10M540.5 136v8M541.5 134v9M542.5 131v12M543.5 132v10M544.5 132v11M545.5 129v11M546.5 130v10M547.5 132v7M548.5 127v15M549.5 132v12M550.5 134v12M551.5 136v9M552.5 132v14M553.5 133v19M554.5 131v13M555.5 130v12M556.5 132v10M557.5 134v10M558.5 134v11M559.5 134v13M560.5 127v19M561.5 135v16M562.5 135v11M563.5 127v18M564.5 135v12M565.5 131v21M566.5 135v20M567.5 134v13M568.5 135v10M569.5 134v17M570.5 133v15M571.5 133v9M572.5 127v13M573.5 130v10M574.5 125v22M575.5 125v17M576.5 125v25M577.5 128v17M578.5 123v18M579.5 126v21M580.5 128v15M581.5 124v18M582.5 130v11M583.5 128v11M584.5 125v14M585.5 122v21M586.5 127v17M587.5 129v12M588.5 134v10M589.5 135v8M590.5 135v10M591.5 135v8M592.5 132v18M593.5 133v15M594.5 134v9M595.5 130v10M596.5 131v9M597.5 133v8M598.5 132v9M599.5 131v10M600.5 132v15M601.5 130v15M602.5 133v15M603.5 131v19M604.5 132v11M605.5 132v9M606.5 129v10M607.5 127v12M608.5 132v9M609.5 134v10M610.5 133v11M611.5 130v13M612.5 131v19M613.5 133v9M614.5 133v8M615.5 134v9M616.5 133v10M617.5 131v14M618.5 126v16M619.5 133v9M620.5 134v11M621.5 134v9M622.5 134v8M623.5 133v9M624.5 133v11M625.5 132v11M626.5 132v12M627.5 130v14M628.5 132v10M629.5 132v16M630.5 132v16M631.5 131v16M632.5 134v8M633.5 134v13M634.5 130v20M635.5 133v11M636.5 134v8M637.5 135v8M638.5 130v14M639.5 127v15M640.5 131v11M641.5 126v21M642.5 130v10M643.5 129v13M644.5 133v11M645.5 130v13M646.5 130v11M647.5 131v13M648.5 134v14M649.5 134v9M650.5 135v10M651.5 136v10M652.5 136v9M653.5 133v11M654.5 133v10M655.5 132v13M656.5 132v9M657.5 134v10M658.5 134v15M659.5 135v10M660.5 135v11M661.5 135v11M662.5 136v12M663.5 132v22M664.5 137v11M665.5 129v17M666.5 133v13M667.5 131v14M668.5 130v19M669.5 132v11M670.5 130v13M671.5 131v13M672.5 124v24M673.5 129v13M674.5 127v20M675.5 130v12M676.5 135v14M677.5 133v21M678.5 135v10M679.5 133v11M680.5 133v11M681.5 135v8M682.5 136v8M683.5 134v14M684.5 129v16M685.5 132v13M686.5 135v12M687.5 134v12M688.5 130v13M689.5 130v13M690.5 126v21M691.5 126v22M692.5 130v16M693.5 136v13M694.5 134v10M695.5 135v9M696.5 131v13M697.5 135v8M698.5 133v11M699.5 132v12M700.5 134v8M701.5 132v12M702.5 129v14M703.5 131v15M704.5 131v12M705.5 133v12M706.5 132v11M707.5 128v16M708.5 127v13M709.5 130v12M710.5 131v11M711.5 131v11M712.5 127v15M713.5 128v20M714.5 131v12M715.5 131v13M716.5 131v19M717.5 133v17M718.5 134v11M719.5 132v11M720.5 133v13M721.5 131v14M722.5 129v14M723.5 133v10M724.5 133v13M725.5 134v10M726.5 128v16M727.5 125v17M728.5 130v16M729.5 133v9M730.5 134v10M731.5 133v17M732.5 128v21M733.5 132v18M734.5 133v10M735.5 130v14M736.5 135v12M737.5 135v8M738.5 133v10M739.5 125v20M740.5 131v14M741.5 134v13M742.5 136v10M743.5 134v12M744.5 130v16M745.5 123v19M746.5 125v18M747.5 134v10M748.5 132v13M749.5 130v14M750.5 129v12M751.5 128v13M752.5 133v14M753.5 133v14M754.5 135v10M755.5 135v9M756.5 132v13M757.5 127v22M758.5 132v11M759.5 132v13M760.5 133v9M761.5 130v14M762.5 132v11M763.5 131v17M764.5 132v9M765.5 129v12M766.5 133v8M767.5 134v9M768.5 136v9M769.5 135v10M770.5 127v20M771.5 136v11M772.5 136v10M773.5 133v12M774.5 128v20M775.5 135v11M776.5 126v17M777.5 130v13M778.5 131v11M779.5 130v20M780.5 131v13M781.5 134v11M782.5 132v18M783.5 133v15M784.5 135v19M785.5 132v15M786.5 134v10M787.5 133v12M788.5 135v11M789.5 134v8M790.5 134v8M791.5 131v13M792.5 130v16M793.5 135v11M794.5 133v13M795.5 133v13M796.5 132v9M797.5 128v10M798.5 127v12M799.5 131v8M800.5 132v8M801.5 132v10M802.5 132v11M803.5 133v10M804.5 134v14M805.5 134v12M806.5 135v13M807.5 133v11M808.5 135v12M809.5 134v10M810.5 132v10M811.5 131v14M812.5 110v34M813.5 133v9M814.5 132v10M815.5 133v9M816.5 133v12M817.5 129v12M818.5 124v17M819.5 131v15M820.5 127v19M821.5 130v20M822.5 130v13M823.5 132v12M824.5 126v19M825.5 132v11M826.5 131v12M827.5 127v15M828.5 134v10M829.5 135v10M830.5 127v25M831.5 134v17M832.5 135v10M833.5 132v11M834.5 131v11M835.5 133v13M836.5 132v18M837.5 129v21M838.5 126v15M839.5 124v18M840.5 126v19M841.5 134v10M842.5 135v12M843.5 132v16M844.5 135v10M845.5 136v9M846.5 135v14M847.5 133v15M848.5 133v12M849.5 135v11M850.5 129v16M851.5 126v16M852.5 122v18M853.5 130v12M854.5 130v14M855.5 129v13M856.5 133v11M857.5 132v14M858.5 134v9M859.5 134v9M860.5 130v13M861.5 131v12M862.5 133v12M863.5 132v11M864.5 128v16M865.5 130v14M866.5 131v12M867.5 133v11M868.5 130v12M869.5 126v14M870.5 132v12M871.5 134v10M872.5 135v11M873.5 130v14M874.5 132v19M875.5 131v20M876.5 132v13M877.5 130v11M878.5 133v9M879.5 132v11M880.5 133v8M881.5 133v9M882.5 132v11M883.5 132v10M884.5 133v11M885.5 133v16M886.5 132v14M887.5 134v9M888.5 130v12M889.5 131v12M890.5 124v21M891.5 127v16M892.5 131v11M893.5 132v14M894.5 133v15M895.5 135v9M896.5 132v13M897.5 135v12M898.5 135v15M899.5 133v11M900.5 130v11M901.5 128v14M902.5 127v15M903.5 131v9M904.5 130v12M905.5 132v11M906.5 132v12M907.5 135v10M908.5 128v17M909.5 133v9M910.5 133v8M911.5 127v16M912.5 125v15M913.5 126v13M914.5 124v19M915.5 132v16M916.5 129v12M917.5 131v10M918.5 131v12M919.5 122v26M920.5 129v15M921.5 132v11M922.5 136v10M923.5 135v13M924.5 126v22M925.5 133v12M926.5 134v14M927.5 135v11M928.5 132v19M929.5 133v12M930.5 136v16M931.5 138v10M932.5 136v10M933.5 131v17M934.5 123v18M935.5 128v14M936.5 122v21M937.5 130v14M938.5 122v21M939.5 134v11M940.5 132v16M941.5 129v18M942.5 133v12M943.5 132v12M944.5 133v12M945.5 134v13M946.5 132v10M947.5 132v10M948.5 126v16M949.5 127v15M950.5 134v9M951.5 132v12M952.5 127v18M953.5 127v15M954.5 133v9M955.5 128v15M956.5 136v12M957.5 134v11M958.5 134v12M959.5 133v10M960.5 132v16M961.5 129v15M962.5 133v10M963.5 128v16M964.5 136v10M965.5 135v12M966.5 128v18M967.5 127v15M968.5 131v13M969.5 131v14M970.5 127v17M971.5 132v12M972.5 136v11M973.5 134v9M974.5 134v12M975.5 130v11M976.5 130v15M977.5 127v16M978.5 135v16M979.5 135v15M980.5 136v18M981.5 136v12M982.5 131v17M983.5 133v14M984.5 134v10M985.5 133v10M986.5 130v20M987.5 134v13M988.5 134v14M989.5 126v23M990.5 132v19M991.5 135v17M992.5 135v11M993.5 135v10M994.5 137v14M995.5 136v14M996.5 127v17M997.5 127v15M998.5 131v9M999.5 133v15M1000.5 134v10M1001.5 136v9M1002.5 135v10M1003.5 132v12M1004.5 129v14M1005.5 127v16M1006.5 127v19M1007.5 133v13M1008.5 133v10M1009.5 133v12M1010.5 116v29M1011.5 128v18M1012.5 133v10M1013.5 134v9M1014.5 133v15M1015.5 128v14M1016.5 122v19M1017.5 120v20M1018.5 127v17M1019.5 126v18M1020.5 132v12M1021.5 124v20M1022.5 130v14M1023.5 125v20M1024.5 132v14M1025.5 134v11M1026.5 133v11M1027.5 133v13M1028.5 137v15M1029.5 134v18M1030.5 102v44M1031.5 109v39M1032.5 131v12M1033.5 133v8M1034.5 134v8M1035.5 135v15M1036.5 135v12M1037.5 132v14M1038.5 130v22M1039.5 135v11M1040.5 135v12M1041.5 133v10M1042.5 132v12M1043.5 132v9M1044.5 132v8M1045.5 134v10M1046.5 134v10M1047.5 131v11M1048.5 134v9M1049.5 135v9" stroke="#0000ff" stroke-width="1" fill="none"/><path d="M51.5 170v9M52.5 172v9M53.5 169v13M54.5 171v12M55.5 169v10M56.5 168v9M57.5 165v12M58.5 168v11M59.5 171v10M60.5 171v11M61.5 161v22M62.5 167v17M63.5 162v17M64.5 169v9M65.5 164v18M66.5 172v9M67.5 170v11M68.5 167v17M69.5 170v10M70.5 170v9M71.5 170v13M72.5 166v12M73.5 157v22M74.5 162v19M75.5 158v21M76.5 160v18M77.5 165v13M78.5 171v9M79.5 170v9M80.5 169v13M81.5 170v9M82.5 169v14M83.5 168v15M84.5 166v17M85.5 165v20M86.5 165v16M87.5 166v16M88.5 169v14M89.5 160v24M90.5 162v15M91.5 162v17M92.5 168v17M93.5 169v10M94.5 164v16M95.5 170v15M96.5 167v16M97.5 170v10M98.5 166v12M99.5 170v9M100.5 170v15M101.5 165v20M102.5 169v17M103.5 172v14M104.5 171v23M105.5 167v19M106.5 170v13M107.5 168v22M108.5 159v22M109.5 169v13M110.5 163v16M111.5 160v19M112.5 170v12M113.5 170v14M114.5 170v13M115.5 172v11M116.5 169v12M117.5 163v17M118.5 166v14M119.5 169v11M120.5 171v10M121.5 172v15M122.5 168v11M123.5 170v8M124.5 170v10M125.5 164v16M126.5 166v14M127.5 169v13M128.5 171v12M129.5 165v16M130.5 163v23M131.5 165v20M132.5 167v22M133.5 167v16M134.5 164v17M135.5 158v21M136.5 168v11M137.5 163v22M138.5 169v10M139.5 168v9M140.5 159v18M141.5 165v14M142.5 171v11M143.5 173v8M144.5 172v11M145.5 170v10M146.5 160v18M147.5 163v19M148.5 167v11M149.5 163v16M150.5 166v12M151.5 163v18M152.5 168v11M153.5 168v9M154.5 168v9M155.5 168v11M156.5 163v16M157.5 169v11M158.5 170v9M159.5 163v16M160.5 169v9M161.5 169v11M162.5 170v9M163.5 170v10M164.5 169v19M165.5 160v22M166.5 164v14M167.5 165v13M168.5 166v12M169.5 166v17M170.5 163v21M171.5 163v15M172.5 168v9M173.5 168v10M174.5 167v14M175.5 166v15M176.5 164v14M177.5 163v16M178.5 158v26M179.5 163v17M180.5 161v17M181.5 165v10M182.5 164v13M183.5 166v9M184.5 169v9M185.5 168v13M186.5 167v12M187.5 169v11M188.5 166v12M189.5 160v19M190.5 162v17M191.5 165v12M192.5 169v8M193.5 166v15M194.5 161v20M195.5 169v11M196.5 171v11M197.5 168v20M198.5 170v13M199.5 170v12M200.5 162v17M201.5 170v9M202.5 170v10M203.5 172v12M204.5 169v11M205.5 167v11M206.5 167v18M207.5 164v18M208.5 167v12M209.5 161v18M210.5 168v11M211.5 168v10M212.5 167v13M213.5 164v21M214.5 168v13M215.5 170v9M216.5 164v14M217.5 169v12M218.5 169v8M219.5 168v13M220.5 171v18M221.5 172v11M222.5 171v16M223.5 171v12M224.5 164v19M225.5 163v17M226.5 164v15M227.5 163v18M228.5 169v11M229.5 166v14M230.5 169v13M231.5 171v11M232.5 170v12M233.5 170v9M234.5 168v11M235.5 169v11M236.5 169v10M237.5 169v11M238.5 170v10M239.5 168v15M240.5 168v11M241.5 169v11M242.5 172v11M243.5 170v11M244.5 169v12M245.5 169v10M246.5 161v24M247.5 166v22M248.5 165v24M249.5 169v12M250.5 166v18M251.5 165v15M252.5 166v16M253.5 169v9M254.5 168v13M255.5 169v10M256.5 167v13M257.5 169v13M258.5 171v8M259.5 170v9M260.5 171v9M261.5 171v10M262.5 169v12M263.5 161v21M264.5 168v13M265.5 166v14M266.5 160v20M267.5 166v12M268.5 169v13M269.5 166v15M270.5 171v11M271.5 172v11M272.5 170v18M273.5 170v11M274.5 169v10M275.5 170v8M276.5 169v11M277.5 168v13M278.5 166v13M279.5 163v17M280.5 167v13M281.5 169v10M282.5 169v11M283.5 168v13M284.5 159v25M285.5 159v20M286.5 167v13M287.5 170v18M288.5 169v12M289.5 168v14M290.5 166v18M291.5 167v17M292.5 165v20M293.5 163v18M294.5 169v18M295.5 167v12M296.5 160v19M297.5 168v10M298.5 167v21M299.5 160v20M300.5 165v14M301.5 165v18M302.5 165v23M303.5 165v16M304.5 169v12M305.5 166v13M306.5 166v13M307.5 166v20M308.5 165v16M309.5 165v12M310.5 168v10M311.5 167v13M312.5 166v13M313.5 167v11M314.5 171v10M315.5 163v20M316.5 170v13M317.5 169v17M318.5 169v11M319.5 168v11M320.5 172v9M321.5 170v18M322.5 170v9M323.5 167v12M324.5 166v17M325.5 169v12M326.5 168v16M327.5 162v15M328.5 165v11M329.5 164v14M330.5 167v14M331.5 167v15M332.5 171v12M333.5 169v12M334.5 169v11M335.5 167v13M336.5 167v17M337.5 163v17M338.5 162v24M339.5 163v19M340.5 168v13M341.5 166v17M342.5 166v15M343.5 169v13M344.5 171v12M345.5 169v12M346.5 167v21M347.5 165v15M348.5 167v14M349.5 161v20M350.5 167v20M351.5 168v17M352.5 168v13M353.5 167v15M354.5 168v14M355.5 169v18M356.5 168v11M357.5 163v21M358.5 165v25M359.5 160v31M360.5 165v19M361.5 167v21M362.5 166v12M363.5 162v17M364.5 169v14M365.5 168v14M366.5 161v19M367.5 169v11M368.5 171v14M369.5 167v18M370.5 164v20M371.5 164v14M372.5 166v15M373.5 169v10M374.5 169v19M375.5 165v15M376.5 165v13M377.5 167v13M378.5 168v14M379.5 169v13M380.5 168v10M381.5 165v14M382.5 157v25M383.5 166v27M384.5 152v38M385.5 160v37M386.5 167v16M387.5 163v18M388.5 151v30M389.5 161v29M390.5 168v19M391.5 164v30M392.5 168v21M393.5 154v26M394.5 168v11M395.5 171v12M396.5 170v16M397.5 155v31M398.5 164v20M399.5 165v13M400.5 163v28M401.5 164v16M402.5 153v35M403.5 160v33M404.5 164v30M405.5 167v26M406.5 168v16M407.5 168v11M408.5 164v16M409.5 159v33M410.5 165v22M411.5 160v29M412.5 167v19M413.5 166v19M414.5 166v19M415.5 166v16M416.5 168v14M417.5 168v24M418.5 162v17M419.5 157v23M420.5 168v19M421.5 158v25M422.5 168v16M423.5 163v17M424.5 165v12M425.5 168v10M426.5 168v10M427.5 168v10M428.5 165v11M429.5 167v10M430.5 169v19M431.5 166v20M432.5 151v35M433.5 161v17M434.5 163v14M435.5 167v11M436.5 167v13M437.5 165v20M438.5 165v17M439.5 170v10M440.5 163v16M441.5 167v15M442.5 169v16M443.5 168v12M444.5 163v25M445.5 170v12M446.5 170v14M447.5 168v12M448.5 167v13M449.5 168v11M450.5 158v26M451.5 165v15M452.5 167v12M453.5 168v18M454.5 167v13M455.5 168v9M456.5 168v17M457.5 162v19M458.5 168v9M459.5 167v10M460.5 167v12M461.5 168v10M462.5 169v13M463.5 169v10M464.5 167v11M465.5 166v10M466.5 167v8M467.5 168v8M468.5 163v12M469.5 163v14M470.5 168v10M471.5 167v13M472.5 168v13M473.5 163v16M474.5 165v20M475.5 165v21M476.5 168v21M477.5 170v12M478.5 169v11M479.5 165v16M480.5 167v10M481.5 169v8M482.5 169v15M483.5 170v12M484.5 169v17M485.5 166v15M486.5 165v18M487.5 167v14M488.5 168v11M489.5 165v16M490.5 166v22M491.5 171v10M492.5 170v11M493.5 169v15M494.5 172v10M495.5 167v32M496.5 168v14M497.5 169v12M498.5 169v12M499.5 167v11M500.5 160v21M501.5 171v9M502.5 170v12M503.5 169v10M504.5 170v8M505.5 170v9M506.5 168v13M507.5 161v19M508.5 163v18M509.5 157v22M510.5 163v16M511.5 164v17M512.5 167v12M513.5 165v15M514.5 165v19M515.5 168v20M516.5 160v18M517.5 166v16M518.5 166v19M519.5 164v17M520.5 168v11M521.5 169v12M522.5 170v14M523.5 170v11M524.5 167v14M525.5 167v17M526.5 168v13M527.5 169v12M528.5 167v12M529.5 170v9M530.5 167v11M531.5 160v20M532.5 159v27M533.5 166v14M534.5 159v23M535.5 169v13M536.5 169v16M537.5 163v23M538.5 164v17M539.5 167v15M540.5 166v10M541.5 166v12M542.5 170v15M543.5 170v14M544.5 161v21M545.5 167v11M546.5 168v11M547.5 167v16M548.5 171v15M549.5 169v11M550.5 169v12M551.5 170v12M552.5 165v15M553.5 160v21M554.5 168v12M555.5 167v16M556.5 167v19M557.5 162v19M558.5 166v14M559.5 170v18M560.5 169v10M561.5 163v19M562.5 169v11M563.5 168v14M564.5 171v10M565.5 169v10M566.5 168v10M567.5 167v11M568.5 165v17M569.5 167v18M570.5 169v13M571.5 169v11M572.5 168v13M573.5 168v10M574.5 170v9M575.5 167v14M576.5 168v15M577.5 162v18M578.5 167v19M579.5 168v19M580.5 162v18M581.5 166v18M582.5 164v22M583.5 167v12M584.5 166v16M585.5 171v15M586.5 171v12M587.5 169v11M588.5 166v12M589.5 166v16M590.5 164v15M591.5 169v11M592.5 170v11M593.5 161v23M594.5 166v17M595.5 166v17M596.5 169v10M597.5 163v20M598.5 170v16M599.5 169v12M600.5 166v20M601.5 162v19M602.5 170v12M603.5 167v17M604.5 170v11M605.5 170v12M606.5 166v13M607.5 165v15M608.5 167v15M609.5 167v9M610.5 166v11M611.5 165v14M612.5 164v22M613.5 170v14M614.5 168v15M615.5 169v21M616.5 170v13M617.5 168v12M618.5 163v20M619.5 163v14M620.5 164v15M621.5 168v12M622.5 166v14M623.5 163v15M624.5 157v24M625.5 158v21M626.5 168v10M627.5 168v10M628.5 168v10M629.5 167v11M630.5 165v19M631.5 169v10M632.5 169v10M633.5 168v11M634.5 167v10M635.5 167v11M636.5 168v13M637.5 168v17M638.5 167v10M639.5 166v9M640.5 159v18M641.5 165v15M642.5 168v14M643.5 170v20M644.5 169v19M645.5 166v24M646.5 170v15M647.5 166v23M648.5 168v12M649.5 166v21M650.5 169v13M651.5 166v23M652.5 160v22M653.5 170v19M654.5 170v12M655.5 167v14M656.5 169v12M657.5 168v11M658.5 163v16M659.5 169v10M660.5 171v10M661.5 165v17M662.5 163v20M663.5 169v14M664.5 167v13M665.5 168v11M666.5 162v17M667.5 167v17M668.5 165v14M669.5 163v15M670.5 168v12M671.5 168v12M672.5 164v21M673.5 164v19M674.5 167v13M675.5 165v20M676.5 169v12M677.5 165v16M678.5 166v13M679.5 167v11M680.5 165v15M681.5 168v20M682.5 167v18M683.5 170v15M684.5 170v17M685.5 167v21M686.5 169v10M687.5 159v20M688.5 166v19M689.5 168v21M690.5 167v15M691.5 169v22M692.5 163v17M693.5 168v10M694.5 163v15M695.5 165v14M696.5 162v19M697.5 168v15M698.5 171v11M699.5 171v11M700.5 170v13M701.5 166v15M702.5 166v13M703.5 170v10M704.5 166v15M705.5 165v21M706.5 165v15M707.5 169v13M708.5 169v13M709.5 167v17M710.5 169v10M711.5 169v14M712.5 170v12M713.5 170v10M714.5 169v10M715.5 169v12M716.5 159v22M717.5 169v22M718.5 171v12M719.5 173v19M720.5 172v15M721.5 170v9M722.5 167v14M723.5 170v19M724.5 170v15M725.5 166v14M726.5 168v10M727.5 168v11M728.5 162v16M729.5 167v12M730.5 167v12M731.5 163v16M732.5 170v11M733.5 165v15M734.5 167v12M735.5 168v12M736.5 169v9M737.5 169v10M738.5 169v11M739.5 169v10M740.5 167v9M741.5 167v9M742.5 169v10M743.5 167v15M744.5 170v14M745.5 163v27M746.5 169v11M747.5 168v12M748.5 168v13M749.5 167v22M750.5 162v22M751.5 163v19M752.5 170v17M753.5 162v20M754.5 169v11M755.5 169v11M756.5 171v15M757.5 168v10M758.5 167v10M759.5 167v12M760.5 167v10M761.5 168v9M762.5 168v12M763.5 168v12M764.5 167v14M765.5 169v11M766.5 166v16M767.5 167v11M768.5 162v16M769.5 164v23M770.5 167v14M771.5 166v14M772.5 163v25M773.5 168v15M774.5 169v10M775.5 167v13M776.5 169v19M777.5 169v14M778.5 166v12M779.5 162v14M780.5 162v15M781.5 161v17M782.5 168v14M783.5 166v14M784.5 158v21M785.5 164v15M786.5 167v12M787.5 166v20M788.5 167v19M789.5 170v12M790.5 166v19M791.5 170v11M792.5 162v27M793.5 165v15M794.5 162v16M795.5 165v12M796.5 167v10M797.5 169v10M798.5 169v12M799.5 168v16M800.5 161v20M801.5 170v13M802.5 171v17M803.5 172v17M804.5 162v26M805.5 166v16M806.5 165v14M807.5 167v12M808.5 169v14M809.5 168v14M810.5 171v21M811.5 170v12M812.5 168v17M813.5 169v11M814.5 167v12M815.5 169v10M816.5 170v11M817.5 170v13M818.5 165v16M819.5 171v10M820.5 172v12M821.5 170v14M822.5 171v13M823.5 172v10M824.5 169v14M825.5 168v14M826.5 162v24M827.5 163v17M828.5 167v16M829.5 168v12M830.5 168v18M831.5 169v11M832.5 170v12M833.5 169v15M834.5 169v15M835.5 169v14M836.5 166v17M837.5 165v18M838.5 171v15M839.5 174v13M840.5 168v23M841.5 165v17M842.5 162v17M843.5 164v16M844.5 166v15M845.5 168v14M846.5 169v12M847.5 161v17M848.5 168v12M849.5 162v18M850.5 163v15M851.5 165v14M852.5 168v9M853.5 165v11M854.5 167v9M855.5 166v12M856.5 166v12M857.5 165v15M858.5 166v16M859.5 163v25M860.5 164v25M861.5 166v20M862.5 159v26M863.5 169v12M864.5 167v19M865.5 164v16M866.5 165v13M867.5 162v14M868.5 157v19M869.5 165v12M870.5 166v13M871.5 167v14M872.5 168v11M873.5 169v17M874.5 165v14M875.5 168v10M876.5 170v9M877.5 171v12M878.5 168v22M879.5 165v23M880.5 167v13M881.5 167v12M882.5 168v13M883.5 169v12M884.5 161v18M885.5 170v12M886.5 170v11M887.5 167v12M888.5 170v7M889.5 171v9M890.5 171v12M891.5 172v9M892.5 173v10M893.5 171v11M894.5 164v17M895.5 160v18M896.5 164v14M897.5 165v13M898.5 169v12M899.5 169v13M900.5 172v11M901.5 172v18M902.5 167v17M903.5 168v12M904.5 172v13M905.5 172v10M906.5 171v14M907.5 165v18M908.5 169v15M909.5 169v17M910.5 166v14M911.5 163v16M912.5 161v20M913.5 169v10M914.5 167v15M915.5 166v12M916.5 167v14M917.5 171v10M918.5 160v20M919.5 166v22M920.5 168v11M921.5 170v13M922.5 168v18M923.5 169v21M924.5 168v11M925.5 169v10M926.5 169v14M927.5 170v11M928.5 170v12M929.5 169v12M930.5 167v14M931.5 164v16M932.5 169v13M933.5 166v17M934.5 162v20M935.5 167v18M936.5 165v15M937.5 166v11M938.5 167v9M939.5 165v14M940.5 161v17M941.5 166v10M942.5 166v10M943.5 159v15M944.5 158v12M945.5 155v10M946.5 148v19M947.5 145v15M948.5 146v13M949.5 148v13M950.5 144v18M951.5 155v13M952.5 160v11M953.5 154v20M954.5 165v10M955.5 168v14M956.5 162v17M957.5 169v15M958.5 168v13M959.5 169v11M960.5 171v13M961.5 175v12M962.5 177v13M963.5 175v11M964.5 175v10M965.5 170v15M966.5 168v12M967.5 157v19M968.5 161v16M969.5 159v18M970.5 165v11M971.5 166v11M972.5 166v14M973.5 164v15M974.5 167v9M975.5 165v10M976.5 161v18M977.5 167v11M978.5 165v14M979.5 167v17M980.5 165v12M981.5 167v12M982.5 166v12M983.5 168v11M984.5 164v22M985.5 167v13M986.5 165v15M987.5 158v21M988.5 169v15M989.5 168v19M990.5 171v20M991.5 169v19M992.5 170v14M993.5 170v10M994.5 165v15M995.5 168v13M996.5 168v11M997.5 165v16M998.5 167v19M999.5 165v14M1000.5 168v11M1001.5 170v11M1002.5 169v16M1003.5 167v12M1004.5 168v9M1005.5 167v11M1006.5 168v10M1007.5 168v12M1008.5 172v16M1009.5 173v9M1010.5 169v15M1011.5 167v11M1012.5 167v11M1013.5 169v11M1014.5 169v12M1015.5 169v9M1016.5 164v15M1017.5 166v10M1018.5 168v11M1019.5 168v16M1020.5 168v16M1021.5 170v11M1022.5 163v16M1023.5 168v12M1024.5 169v10M1025.5 167v20M1026.5 169v19M1027.5 162v18M1028.5 167v11M1029.5 168v14M1030.5 170v10M1031.5 169v12M1032.5 164v15M1033.5 163v17M1034.5 168v18M1035.5 168v11M1036.5 165v10M1037.5 161v12M1038.5 163v14M1039.5 167v14M1040.5 168v8M1041.5 167v12M1042.5 164v23M1043.5 171v11M1044.5 168v16M1045.5 169v16M1046.5 160v25M1047.5 165v16M1048.5 160v22M1049.5 167v14" stroke="#006400" stroke-width="1" fill="none"/><path d="M51.5 206v19M52.5 206v11M53.5 204v12M54.5 200v22M55.5 204v12M56.5 197v21M57.5 199v18M58.5 204v14M59.5 202v23M60.5 203v17M61.5 201v15M62.5 198v20M63.5 203v19M64.5 204v10M65.5 200v14M66.5 204v9M67.5 197v19M68.5 206v11M69.5 208v10M70.5 206v13M71.5 199v17M72.5 203v14M73.5 204v18M74.5 199v17M75.5 205v18M76.5 207v17M77.5 207v11M78.5 206v9M79.5 205v10M80.5 202v11M81.5 206v9M82.5 206v10M83.5 198v17M84.5 203v11M85.5 201v11M86.5 200v14M87.5 201v16M88.5 208v10M89.5 208v9M90.5 205v10M91.5 204v10M92.5 203v10M93.5 199v14M94.5 202v19M95.5 199v13M96.5 197v17M97.5 200v21M98.5 204v11M99.5 204v11M100.5 200v15M101.5 203v10M102.5 201v11M103.5 203v11M104.5 200v14M105.5 206v9M106.5 207v9M107.5 205v14M108.5 198v21M109.5 204v12M110.5 205v12M111.5 202v17M112.5 194v20M113.5 202v10M114.5 205v9M115.5 206v10M116.5 207v10M117.5 205v12M118.5 203v12M119.5 203v23M120.5 195v26M121.5 204v23M122.5 199v19M123.5 195v19M124.5 198v18M125.5 194v24M126.5 203v11M127.5 205v11M128.5 204v18M129.5 206v14M130.5 201v21M131.5 203v17M132.5 198v16M133.5 204v17M134.5 206v14M135.5 207v11M136.5 207v10M137.5 206v20M138.5 202v20M139.5 201v22M140.5 204v12M141.5 204v11M142.5 200v17M143.5 197v19M144.5 195v17M145.5 202v11M146.5 206v12M147.5 207v20M148.5 206v13M149.5 205v10M150.5 202v12M151.5 201v12M152.5 198v17M153.5 200v20M154.5 201v15M155.5 202v12M156.5 203v20M157.5 203v18M158.5 205v12M159.5 202v16M160.5 204v21M161.5 197v19M162.5 206v14M163.5 204v16M164.5 203v15M165.5 204v9M166.5 204v11M167.5 203v17M168.5 203v19M169.5 198v17M170.5 205v12M171.5 203v12M172.5 204v19M173.5 205v9M174.5 206v8M175.5 206v10M176.5 205v11M177.5 201v19M178.5 198v18M179.5 203v13M180.5 201v15M181.5 205v16M182.5 207v17M183.5 202v13M184.5 200v15M185.5 201v23M186.5 202v22M187.5 199v19M188.5 192v24M189.5 203v13M190.5 205v13M191.5 197v20M192.5 205v22M193.5 204v14M194.5 200v18M195.5 206v13M196.5 207v12M197.5 204v12M198.5 204v15M199.5 204v14M200.5 201v12M201.5 197v14M202.5 200v16M203.5 200v13M204.5 202v9M205.5 202v12M206.5 203v11M207.5 205v13M208.5 203v16M209.5 207v13M210.5 205v14M211.5 206v10M212.5 205v8M213.5 205v9M214.5 197v22M215.5 202v13M216.5 198v17M217.5 200v14M218.5 201v12M219.5 204v12M220.5 206v13M221.5 208v9M222.5 205v12M223.5 203v10M224.5 205v8M225.5 206v10M226.5 204v14M227.5 203v14M228.5 202v15M229.5 199v21M230.5 203v13M231.5 204v12M232.5 204v19M233.5 202v16M234.5 199v23M235.5 203v13M236.5 201v22M237.5 201v14M238.5 203v9M239.5 204v11M240.5 202v12M241.5 203v11M242.5 206v9M243.5 205v12M244.5 206v12M245.5 203v14M246.5 207v13M247.5 195v21M248.5 197v19M249.5 201v16M250.5 196v21M251.5 206v12M252.5 205v11M253.5 203v10M254.5 203v10M255.5 203v12M256.5 203v11M257.5 202v11M258.5 203v11M259.5 202v22M260.5 194v23M261.5 202v13M262.5 204v12M263.5 205v12M264.5 205v11M265.5 203v20M266.5 200v18M267.5 203v11M268.5 204v13M269.5 203v18M270.5 202v10M271.5 201v12M272.5 201v14M273.5 194v20M274.5 203v15M275.5 199v18M276.5 204v14M277.5 202v12M278.5 200v14M279.5 202v11M280.5 203v21M281.5 195v23M282.5 203v11M283.5 202v12M284.5 196v18M285.5 201v15M286.5 201v14M287.5 200v14M288.5 203v11M289.5 201v14M290.5 206v15M291.5 205v11M292.5 205v13M293.5 206v12M294.5 203v13M295.5 205v13M296.5 203v11M297.5 204v9M298.5 203v10M299.5 201v13M300.5 196v22M301.5 202v11M302.5 203v12M303.5 205v10M304.5 206v9M305.5 203v12M306.5 199v19M307.5 208v19M308.5 208v14M309.5 208v8M310.5 206v9M311.5 208v9M312.5 206v12M313.5 206v10M314.5 202v18M315.5 203v11M316.5 203v12M317.5 199v27M318.5 199v19M319.5 203v16M320.5 207v10M321.5 205v12M322.5 199v21M323.5 206v12M324.5 206v19M325.5 204v18M326.5 203v17M327.5 204v19M328.5 201v14M329.5 204v11M330.5 203v11M331.5 204v10M332.5 200v22M333.5 198v22M334.5 205v10M335.5 206v14M336.5 207v14M337.5 200v17M338.5 203v21M339.5 196v18M340.5 202v13M341.5 204v12M342.5 206v16M343.5 201v19M344.5 207v9M345.5 200v16M346.5 204v18M347.5 205v14M348.5 203v12M349.5 197v16M350.5 202v17M351.5 204v12M352.5 207v10M353.5 206v11M354.5 204v12M355.5 200v19M356.5 201v13M357.5 198v16M358.5 202v13M359.5 198v26M360.5 203v11M361.5 204v13M362.5 199v19M363.5 196v23M364.5 195v25M365.5 195v21M366.5 199v12M367.5 193v17M368.5 193v15M369.5 197v12M370.5 193v11M371.5 195v11M372.5 197v14M373.5 193v12M374.5 189v12M375.5 191v14M376.5 192v21M377.5 194v14M378.5 191v16M379.5 193v10M380.5 191v11M381.5 186v21M382.5 195v16M383.5 197v15M384.5 199v11M385.5 195v30M386.5 202v25M387.5 205v12M388.5 205v18M389.5 205v15M390.5 202v16M391.5 205v16M392.5 206v10M393.5 205v10M394.5 205v9M395.5 205v14M396.5 202v17M397.5 202v14M398.5 197v17M399.5 203v13M400.5 200v17M401.5 208v14M402.5 207v14M403.5 204v14M404.5 207v14M405.5 207v12M406.5 204v13M407.5 197v19M408.5 200v15M409.5 202v12M410.5 196v16M411.5 204v11M412.5 201v19M413.5 205v15M414.5 199v18M415.5 199v18M416.5 204v14M417.5 200v19M418.5 196v23M419.5 201v17M420.5 201v13M421.5 206v8M422.5 207v10M423.5 203v17M424.5 198v23M425.5 201v13M426.5 201v12M427.5 203v12M428.5 203v18M429.5 207v11M430.5 206v11M431.5 203v12M432.5 204v13M433.5 202v20M434.5 204v12M435.5 195v22M436.5 202v15M437.5 202v17M438.5 204v11M439.5 197v25M440.5 203v15M441.5 206v11M442.5 205v11M443.5 201v14M444.5 204v9M445.5 196v17M446.5 202v15M447.5 204v14M448.5 196v20M449.5 201v12M450.5 199v17M451.5 203v20M452.5 202v13M453.5 203v11M454.5 201v12M455.5 202v13M456.5 200v19M457.5 208v16M458.5 204v13M459.5 202v22M460.5 206v11M461.5 205v9M462.5 201v14M463.5 198v23M464.5 205v18M465.5 205v13M466.5 205v14M467.5 204v22M468.5 204v12M469.5 205v13M470.5 204v16M471.5 203v14M472.5 200v13M473.5 194v22M474.5 199v14M475.5 201v14M476.5 202v14M477.5 207v8M478.5 204v15M479.5 201v14M480.5 205v10M481.5 205v11M482.5 205v10M483.5 203v13M484.5 202v14M485.5 198v21M486.5 203v12M487.5 204v11M488.5 204v12M489.5 203v13M490.5 205v11M491.5 205v11M492.5 204v18M493.5 203v14M494.5 201v12M495.5 205v9M496.5 207v10M497.5 206v11M498.5 203v13M499.5 202v15M500.5 195v19M501.5 201v14M502.5 204v12M503.5 205v11M504.5 206v10M505.5 203v14M506.5 204v11M507.5 204v13M508.5 204v12M509.5 203v12M510.5 198v26M511.5 204v19M512.5 202v13M513.5 200v15M514.5 204v14M515.5 205v10M516.5 201v17M517.5 205v21M518.5 202v22M519.5 203v15M520.5 205v11M521.5 206v10M522.5 202v16M523.5 203v16M524.5 204v12M525.5 202v14M526.5 198v14M527.5 201v10M528.5 202v12M529.5 200v14M530.5 195v20M531.5 201v13M532.5 202v11M533.5 199v13M534.5 203v11M535.5 206v10M536.5 206v18M537.5 206v16M538.5 206v11M539.5 204v10M540.5 203v16M541.5 200v14M542.5 201v15M543.5 201v13M544.5 198v15M545.5 201v12M546.5 203v10M547.5 203v9M548.5 202v13M549.5 198v16M550.5 202v12M551.5 197v14M552.5 200v11M553.5 197v16M554.5 202v10M555.5 202v13M556.5 204v13M557.5 199v15M558.5 200v14M559.5 200v15M560.5 200v15M561.5 194v23M562.5 195v18M563.5 203v13M564.5 200v12M565.5 202v11M566.5 195v20M567.5 196v19M568.5 203v17M569.5 204v12M570.5 206v11M571.5 203v21M572.5 200v15M573.5 202v17M574.5 200v13M575.5 202v13M576.5 202v17M577.5 203v19M578.5 200v13M579.5 196v14M580.5 203v9M581.5 204v11M582.5 204v12M583.5 205v19M584.5 205v19M585.5 200v17M586.5 207v10M587.5 206v11M588.5 202v11M589.5 202v13M590.5 202v12M591.5 202v18M592.5 204v13M593.5 205v14M594.5 204v16M595.5 198v16M596.5 201v15M597.5 201v12M598.5 203v8M599.5 203v12M600.5 203v21M601.5 199v23M602.5 204v11M603.5 204v11M604.5 200v20M605.5 203v14M606.5 205v10M607.5 206v9M608.5 205v10M609.5 204v11M610.5 203v13M611.5 205v17M612.5 204v14M613.5 208v9M614.5 206v10M615.5 205v10M616.5 201v21M617.5 202v12M618.5 201v14M619.5 202v12M620.5 202v15M621.5 207v12M622.5 204v18M623.5 206v10M624.5 201v18M625.5 201v14M626.5 198v20M627.5 195v22M628.5 201v11M629.5 201v12M630.5 204v15M631.5 205v10M632.5 205v9M633.5 203v10M634.5 203v10M635.5 204v10M636.5 205v9M637.5 203v11M638.5 206v9M639.5 207v11M640.5 203v11M641.5 203v9M642.5 203v10M643.5 203v12M644.5 206v8M645.5 206v8M646.5 205v10M647.5 206v9M648.5 205v8M649.5 198v18M650.5 202v18M651.5 198v18M652.5 203v19M653.5 203v18M654.5 202v22M655.5 204v12M656.5 204v10M657.5 205v9M658.5 200v13M659.5 199v18M660.5 197v27M661.5 198v24M662.5 196v24M663.5 197v24M664.5 197v33M665.5 192v32M666.5 196v41M667.5 198v39M668.5 193v27M669.5 192v25M670.5 195v26M671.5 194v24M672.5 195v23M673.5 193v29M674.5 199v23M675.5 194v35M676.5 197v36M677.5 197v24M678.5 193v30M679.5 196v38M680.5 196v24M681.5 195v27M682.5 195v26M683.5 200v24M684.5 192v34M685.5 197v23M686.5 185v36M687.5 195v30M688.5 184v35M689.5 187v32M690.5 195v23M691.5 190v28M692.5 193v31M693.5 198v24M694.5 197v26M695.5 195v22M696.5 193v26M697.5 199v25M698.5 196v39M699.5 197v32M700.5 190v35M701.5 201v22M702.5 199v21M703.5 195v21M704.5 189v30M705.5 199v17M706.5 201v16M707.5 201v23M708.5 204v20M709.5 201v14M710.5 203v11M711.5 201v10M712.5 195v15M713.5 198v13M714.5 201v10M715.5 203v11M716.5 204v10M717.5 204v10M718.5 201v13M719.5 204v10M720.5 205v11M721.5 208v12M722.5 205v13M723.5 202v15M724.5 198v24M725.5 201v25M726.5 198v17M727.5 201v16M728.5 197v20M729.5 205v16M730.5 206v11M731.5 198v22M732.5 203v11M733.5 201v16M734.5 193v31M735.5 204v13M736.5 200v24M737.5 202v16M738.5 196v18M739.5 199v16M740.5 205v17M741.5 200v15M742.5 192v22M743.5 203v12M744.5 201v16M745.5 193v26M746.5 202v15M747.5 202v13M748.5 202v12M749.5 203v12M750.5 197v18M751.5 205v12M752.5 202v15M753.5 205v15M754.5 205v12M755.5 201v17M756.5 203v19M757.5 204v13M758.5 202v21M759.5 194v27M760.5 204v16M761.5 204v16M762.5 201v27M763.5 203v15M764.5 199v16M765.5 200v13M766.5 198v15M767.5 200v21M768.5 202v23M769.5 204v18M770.5 204v20M771.5 200v17M772.5 200v19M773.5 204v9M774.5 201v17M775.5 203v14M776.5 206v12M777.5 206v19M778.5 206v16M779.5 205v11M780.5 202v12M781.5 198v18M782.5 199v24M783.5 204v23M784.5 206v19M785.5 204v15M786.5 206v10M787.5 204v19M788.5 206v10M789.5 206v12M790.5 204v11M791.5 206v8M792.5 205v11M793.5 204v11M794.5 206v11M795.5 205v11M796.5 203v16M797.5 202v20M798.5 203v12M799.5 204v17M800.5 204v18M801.5 197v21M802.5 200v15M803.5 203v13M804.5 202v11M805.5 198v23M806.5 203v10M807.5 204v12M808.5 197v17M809.5 200v14M810.5 194v25M811.5 201v13M812.5 201v19M813.5 198v12M814.5 200v11M815.5 199v16M816.5 193v18M817.5 193v16M818.5 197v12M819.5 197v20M820.5 191v21M821.5 199v11M822.5 200v11M823.5 196v16M824.5 203v11M825.5 201v20M826.5 202v15M827.5 199v23M828.5 201v14M829.5 194v21M830.5 202v11M831.5 204v17M832.5 199v19M833.5 199v18M834.5 207v10M835.5 205v12M836.5 204v12M837.5 208v12M838.5 206v14M839.5 200v20M840.5 204v14M841.5 203v17M842.5 206v12M843.5 202v15M844.5 201v16M845.5 200v13M846.5 200v18M847.5 203v11M848.5 192v26M849.5 199v13M850.5 197v17M851.5 202v14M852.5 204v14M853.5 203v15M854.5 200v19M855.5 204v20M856.5 202v16M857.5 202v11M858.5 203v16M859.5 199v14M860.5 197v16M861.5 201v14M862.5 204v12M863.5 205v17M864.5 204v15M865.5 204v15M866.5 205v11M867.5 208v11M868.5 209v14M869.5 208v13M870.5 205v14M871.5 204v14M872.5 205v12M873.5 195v20M874.5 196v19M875.5 197v17M876.5 204v12M877.5 201v15M878.5 196v24M879.5 206v17M880.5 205v13M881.5 202v12M882.5 200v14" stroke="#000000" stroke-width="1" fill="none"/><path d="M50.5 50V475M133.5 50V475M217.5 50V475M300.5 50V475M383.5 50V475M467.5 50V475M550.5 50V475M633.5 50V475M717.5 50V475M800.5 50V475M883.5 50V475M967.5 50V475M1050.5 50V475" stroke="#808080" stroke-width="1" fill="none"/><path d="M50 50.5H1051" stroke="#000" stroke-width="1"/><path d="M50 475.5H1051M50.5 475v12M67.5 475v8M83.5 475v8M100.5 475v8M117.5 475v8M133.5 475v12M150.5 475v8M167.5 475v8M183.5 475v8M200.5 475v8M217.5 475v12M233.5 475v8M250.5 475v8M267.5 475v8M283.5 475v8M300.5 475v12M317.5 475v8M333.5 475v8M350.5 475v8M367.5 475v8M383.5 475v12M400.5 475v8M417.5 475v8M433.5 475v8M450.5 475v8M467.5 475v12M483.5 475v8M500.5 475v8M517.5 475v8M533.5 475v8M550.5 475v12M567.5 475v8M583.5 475v8M600.5 475v8M617.5 475v8M633.5 475v12M650.5 475v8M667.5 475v8M683.5 475v8M700.5 475v8M717.5 475v12M733.5 475v8M750.5 475v8M767.5 475v8M783.5 475v8M800.5 475v12M817.5 475v8M833.5 475v8M850.5 475v8M867.5 475v8M883.5 475v12M900.5 475v8M917.5 475v8M933.5 475v8M950.5 475v8M967.5 475v12M983.5 475v8M1000.5 475v8M1017.5 475v8M1033.5 475v8M1050.5 475v12" stroke="#000" stroke-width="1"/><path d="M2 508h1v1h-1zM3 509h1v1h-1zM4 506h1v3h-1zM5 507h1v1h-1zM6 506h1v4h-1zM7 509h1v1h-1z" fill="#000"/></svg><div class="t big" style="left:50px;top:6px">Aug23,2025</div><div class="t big" style="left:50px;top:21px">ROC HHN LD --</div><div class="t big" style="left:50px;top:36px">(LDEO, Rochester)</div><div class="t big" style="left:-1px;top:51px">EST</div><div class="t big" style="left:1064px;top:51px">UTC</div><div class="t sm" style="left:1105px;top:50px"><span>D</span><span>C</span></div><div class="t num" style="left:13px;top:63px"><span>1</span><span>2</span><span>:</span><span>0</span><span>0</span></div><div class="t num" style="left:1054px;top:63px"><span>1</span><span>8</span><span>:</span><span>0</span><span>0</span></div><div class="t sm" style="left:1105px;top:65px"><span>–</span><span>3</span><span>8</span><span>0</span></div><div class="t num" style="left:13px;top:98px"><span>1</span><span>3</span><span>:</span><span>0</span><span>0</span></div><div class="t num" style="left:1054px;top:98px"><span>1</span><span>9</span><span>:</span><span>0</span><span>0</span></div><div class="t sm" style="left:1105px;top:100px"><span>–</span><span>4</span><span>3</span><span>8</span></div><div class="t num" style="left:13px;top:134px"><span>1</span><span>4</span><span>:</span><span>0</span><span>0</span></div><div class="t num" style="left:1054px;top:134px"><span>2</span><span>0</span><span>:</span><span>0</span><span>0</span></div><div class="t sm" style="left:1105px;top:136px"><span>–</span><span>3</span><span>4</span><span>3</span></div><div class="t num" style="left:13px;top:169px"><span>1</span><span>5</span><span>:</span><span>0</span><span>0</span></div><div class="t num" style="left:1054px;top:169px"><span>2</span><span>1</span><span>:</span><span>0</span><span>0</span></div><div class="t sm" style="left:1105px;top:171px"><span>–</span><span>3</span><span>1</span><span>3</span></div><div class="t num" style="left:13px;top:204px"><span>1</span><span>6</span><span>:</span><span>0</span><span>0</span></div><div class="t num" style="left:1054px;top:204px"><span>2</span><span>2</span><span>:</span><span>0</span><span>0</span></div><div class="t sm" style="left:1105px;top:206px"><span>–</span><span>3</span><span>1</span><span>4</span></div><div class="t num" style="left:13px;top:240px"><span>1</span><span>7</span><span>:</span><span>0</span><span>0</span></div><div class="t num" style="left:1054px;top:240px"><span>2</span><span>3</span><span>:</span><span>0</span><span>0</span></div><div class="t num" style="left:13px;top:275px"><span>1</span><span>8</span><span>:</span><span>0</span><span>0</span></div><div class="t num" style="left:1054px;top:275px"><span>0</span><span>0</span><span>:</span><span>0</span><span>0</span></div><div class="t num" style="left:13px;top:311px"><span>1</span><span>9</span><span>:</span><span>0</span><span>0</span></div><div class="t num" style="left:1054px;top:311px"><span>0</span><span>1</span><span>:</span><span>0</span><span>0</span></div><div class="t num" style="left:13px;top:346px"><span>2</span><span>0</span><span>:</span><span>0</span><span>0</span></div><div class="t num" style="left:1054px;top:346px"><span>0</span><span>2</span><span>:</span><span>0</span><span>0</span></div><div class="t num" style="left:13px;top:381px"><span>2</span><span>1</span><span>:</span><span>0</span><span>0</span></div><div class="t num" style="left:1054px;top:381px"><span>0</span><span>3</span><span>:</span><span>0</span><span>0</span></div><div class="t num" style="left:13px;top:417px"><span>2</span><span>2</span><span>:</span><span>0</span><span>0</span></div><div class="t num" style="left:1054px;top:417px"><span>0</span><span>4</span><span>:</span><span>0</span><span>0</span></div><div class="t num" style="left:13px;top:452px"><span>2</span><span>3</span><span>:</span><span>0</span><span>0</span></div><div class="t num" style="left:1054px;top:452px"><span>0</span><span>5</span><span>:</span><span>0</span><span>0</span></div><div class="t num" style="left:43px;top:487px"><span>0</span><span>0</span></div><div class="t num" style="left:126px;top:487px"><span>0</span><span>5</span></div><div class="t num" style="left:210px;top:487px"><span>1</span><span>0</span></div><div class="t num" style="left:293px;top:487px"><span>1</span><span>5</span></div><div class="t num" style="left:376px;top:487px"><span>2</span><span>0</span></div><div class="t num" style="left:460px;top:487px"><span>2</span><span>5</span></div><div class="t num" style="left:543px;top:487px"><span>3</span><span>0</span></div><div class="t num" style="left:626px;top:487px"><span>3</span><span>5</span></div><div class="t num" style="left:710px;top:487px"><span>4</span><span>0</span></div><div class="t num" style="left:793px;top:487px"><span>4</span><span>5</span></div><div class="t num" style="left:876px;top:487px"><span>5</span><span>0</span></div><div class="t num" style="left:960px;top:487px"><span>5</span><span>5</span></div><div class="t num" style="left:1043px;top:487px"><span>6</span><span>0</span></div><div class="t big" style="left:514px;top:498px">TIME (MINUTES)</div><div class="t sm" style="left:20px;top:501px"><span>E</span><span>a</span><span>c</span><span>h</span><span>&nbsp;</span><span>V</span><span>e</span><span>r</span><span>t</span><span>i</span><span>c</span><span>a</span><span>l</span><span>&nbsp;</span><span>D</span><span>i</span><span>v</span><span>i</span><span>s</span><span>i</span><span>o</span><span>n</span><span>&nbsp;</span><span>=</span><span>&nbsp;</span><span>&nbsp;</span><span>3</span><span>3</span><span>3</span><span>.</span><span>3</span><span>3</span><span>&nbsp;</span><span>m</span><span>i</span><span>c</span><span>r</span><span>o</span><span>v</span><span>o</span><span>l</span><span>t</span><span>s</span></div></body></html>
